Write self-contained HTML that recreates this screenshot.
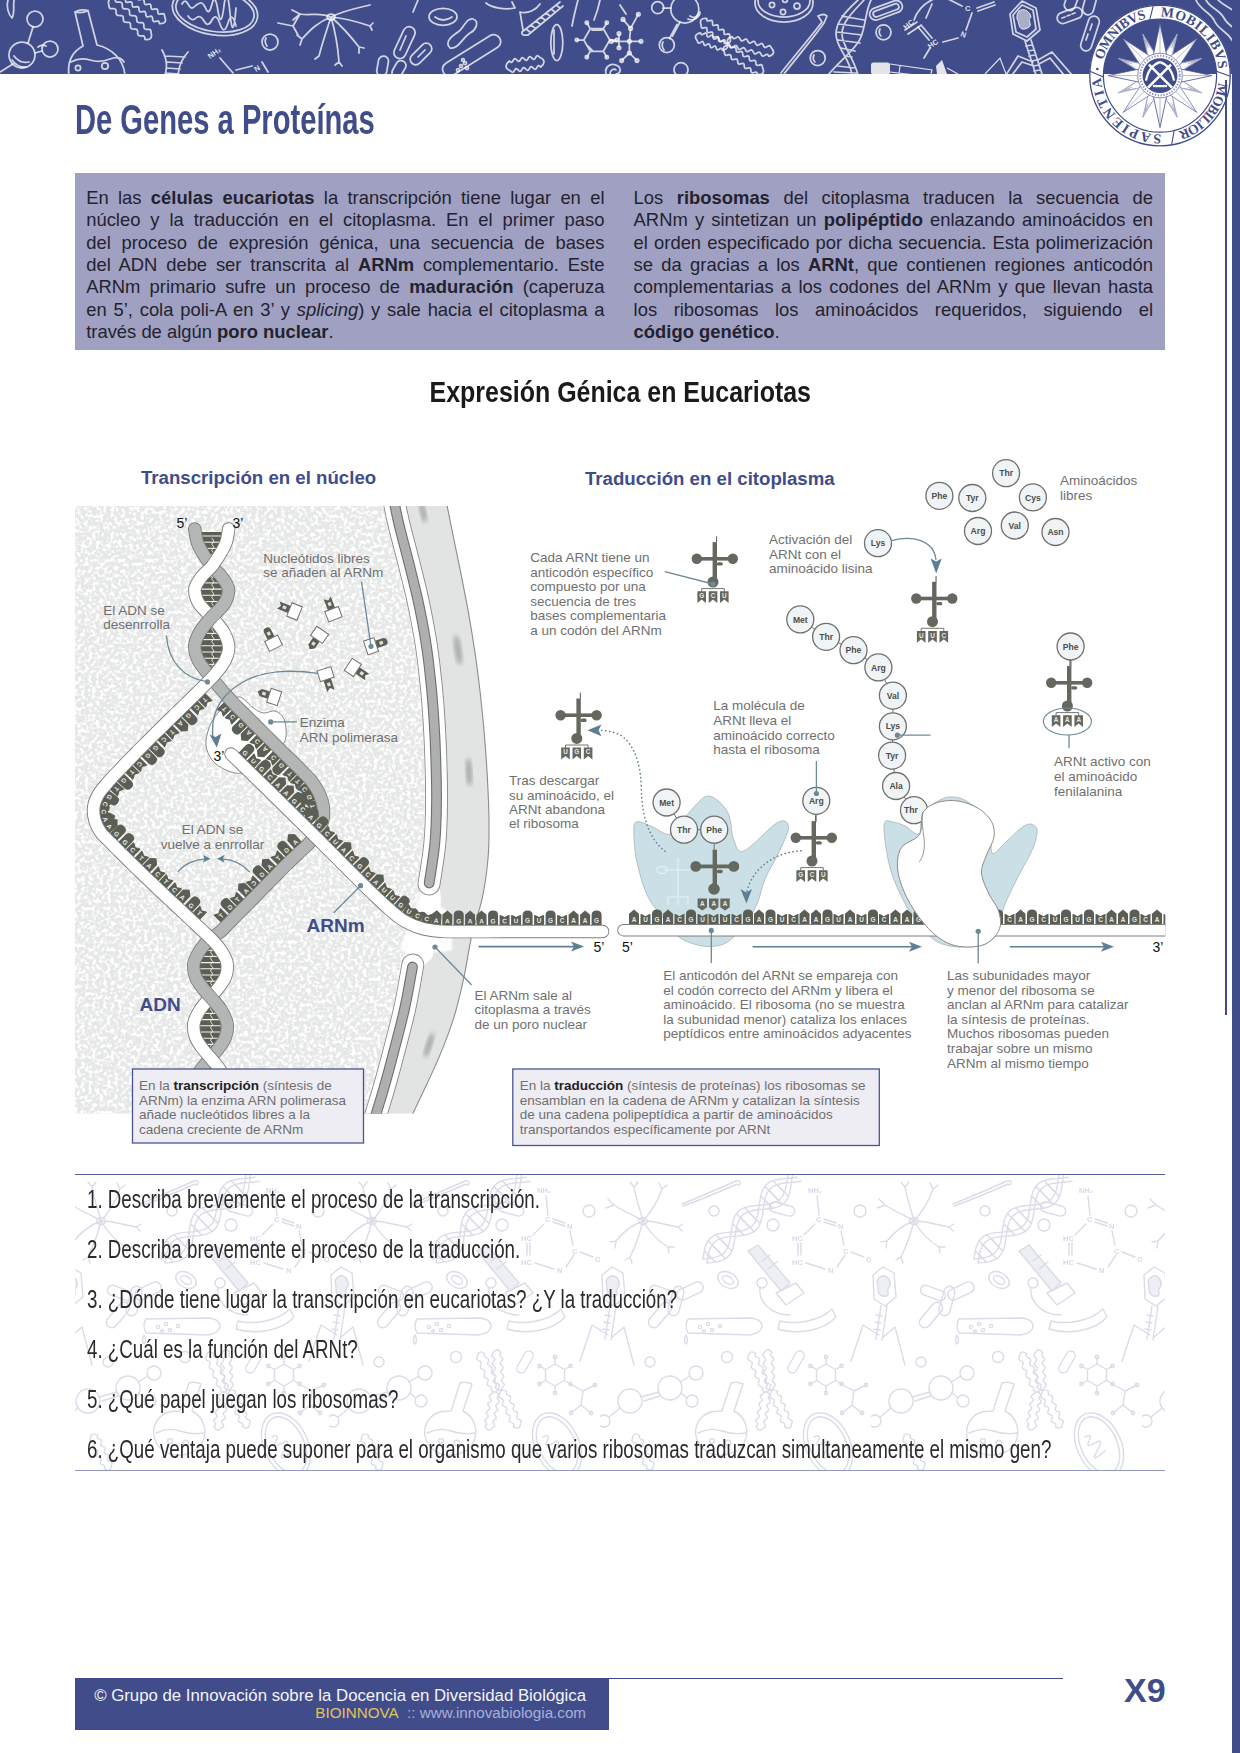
<!DOCTYPE html>
<html lang="es">
<head>
<meta charset="utf-8">
<title>De Genes a Proteínas</title>
<style>
*{box-sizing:border-box;margin:0;padding:0}
html,body{width:1240px;height:1753px;background:#fff;overflow:hidden}
body{position:relative;font-family:"Liberation Sans",sans-serif;color:#222}
.abs{position:absolute}
svg text{font-family:"Liberation Sans",sans-serif}
#hdr{left:0;top:0;width:1240px;height:74px;background:#414c8a;overflow:hidden}
#rband{left:1231.5px;top:0;width:8.5px;height:1753px;background:#414c8a}
#rline{left:1225.3px;top:80px;width:2px;height:935px;background:#414c8a;z-index:3}
#seal{left:1080px;top:0;width:160px;height:160px}
.seal{font-family:"Liberation Serif",serif;font-weight:bold;font-size:13.8px;fill:#414c8a}
#title{left:75.2px;top:95.5px;font-weight:bold;font-size:42px;line-height:48px;color:#414c8a;white-space:nowrap;transform-origin:0 0;transform:scaleX(.694)}
#tbox{left:75px;top:173px;width:1090px;height:177px;background:#a0a0c3}
.col{position:absolute;top:13.8px;font-size:18.4px;line-height:22.4px;color:#23232e}
.ln{height:22.4px;text-align:justify;text-align-last:justify;white-space:normal;overflow:visible}
.ln.nl{text-align:left;text-align-last:left;white-space:nowrap}
#dtitle{left:0;top:374px;width:1240px;text-align:center;font-weight:bold;font-size:30px;line-height:36px;color:#1a1a1a;white-space:nowrap}
#dtitle span{display:inline-block;transform:scaleX(.832)}
#diagram{left:0;top:440px;width:1240px;height:720px}
.tl{font-size:6.4px;font-weight:bold;fill:#e9ebe6;text-anchor:middle}
.lb{font-size:13.5px;fill:#707070}
.bb{font-weight:bold;fill:#222}
.st{font-size:18.65px;font-weight:bold;fill:#414c8a}
.big{font-size:19px;font-weight:bold;fill:#414c8a}
.pr{font-size:14px;fill:#111}
.aa{font-size:8.6px;font-weight:bold;fill:#4c4e4a;text-anchor:middle}
#qs{left:75px;top:1174px;width:1090px;height:297px;border-top:1.6px solid #555e96;border-bottom:1.6px solid #9499bd;overflow:hidden}
#qbg{left:0;top:0;width:1090px;height:296px}
.q{position:absolute;left:12.3px;font-size:25.6px;line-height:30px;color:#2b2b2b;white-space:nowrap;transform-origin:0 0;transform:scaleX(.732)}
#fbox{left:75px;top:1678px;width:534px;height:52px;background:#414c8a;color:#fff}
#fline{left:75px;top:1678px;width:988px;height:1px;background:#414c8a}
#pg{left:1124px;top:1672px;font-weight:bold;font-size:34px;line-height:36px;color:#414c8a}
</style>
</head>
<body>
<div id="hdr" class="abs"><svg width="1240" height="74" viewBox="0 0 1240 74" style="display:block">
<g fill="none" stroke="#fff" stroke-opacity=".76" stroke-width="1.75" stroke-linecap="round" stroke-linejoin="round">
<path d="M8 0C6 8 9 15 12 18C15 13 13 6 14 0"/>
<circle cx="35.0" cy="19.0" r="8.0"/><circle cx="22.0" cy="55.0" r="13.0"/><circle cx="50.0" cy="49.0" r="8.0"/>
<path d="M33 27L28 43M35 53L42 51M13 64L0 72M12 60q6 8 14 7M14 56q6 8 15 6M38 47q4 -3 8 -1"/>
<path d="M75 12Q81 8.5 88 10.5Q82 14 75 12L83 46C72 52 67 62 69 76M88 10.5L97 45C110 48 124 58 125 76M71 62Q80 57 90 60T110 59T124 62"/>
<circle cx="78.0" cy="68.0" r="2.6"/><circle cx="105.0" cy="66.0" r="3.2"/>
<path d="M108.9 5.3L109.0 6.9L109.6 8.1L110.8 8.6L112.5 8.7L114.2 8.7L115.4 9.2L116.0 10.4L116.1 12.1L116.2 13.7L116.8 14.9L118.0 15.4L119.7 15.5L121.4 15.5L122.6 16.0L123.2 17.2L123.3 18.9L123.4 20.5L124.0 21.7L125.2 22.2L126.9 22.3L128.6 22.3L129.8 22.8L130.4 24.0L130.5 25.7L130.6 27.3L131.2 28.5L132.4 29.0L134.1 29.1L135.8 29.1L137.0 29.6L137.6 30.8L137.7 32.5L137.8 34.1L138.4 35.3L139.6 35.8L141.3 35.9L143.0 35.9L144.2 36.4L144.8 37.6L144.9 39.3 Q153.2 40.9 151.1 32.7L151.0 31.1L150.4 29.9L149.2 29.4L147.5 29.3L145.8 29.3L144.6 28.8L144.0 27.6L143.9 25.9L143.8 24.3L143.2 23.1L142.0 22.6L140.3 22.5L138.6 22.5L137.4 22.0L136.8 20.8L136.7 19.1L136.6 17.5L136.0 16.3L134.8 15.8L133.1 15.7L131.4 15.7L130.2 15.2L129.6 14.0L129.5 12.3L129.4 10.7L128.8 9.5L127.6 9.0L125.9 8.9L124.2 8.9L123.0 8.4L122.4 7.2L122.3 5.5L122.2 3.9L121.6 2.7L120.4 2.2L118.7 2.1L117.0 2.1L115.8 1.6L115.2 0.4L115.1 -1.3Q106.8 -2.9 108.9 5.3"/>
<path d="M125.4 -0.3L125.6 1.2L126.2 2.2L127.3 2.4L128.8 2.1L130.3 1.8L131.4 2.0L132.0 3.0L132.2 4.5L132.4 6.0L133.0 7.0L134.1 7.2L135.6 6.9L137.1 6.6L138.2 6.8L138.8 7.8L139.0 9.3L139.2 10.8L139.8 11.8L140.9 12.0L142.4 11.7L143.9 11.4L145.0 11.6L145.6 12.6L145.8 14.1L146.0 15.6L146.6 16.6L147.7 16.8L149.2 16.5L150.7 16.2L151.8 16.4L152.4 17.4L152.6 18.9L152.8 20.4L153.4 21.4L154.5 21.6L156.0 21.3L157.5 21.0L158.6 21.2L159.2 22.2L159.4 23.7 Q167.9 24.2 164.6 16.3L164.4 14.8L163.8 13.8L162.7 13.6L161.2 13.9L159.7 14.2L158.6 14.0L158.0 13.0L157.8 11.5L157.6 10.0L157.0 9.0L155.9 8.8L154.4 9.1L152.9 9.4L151.8 9.2L151.2 8.2L151.0 6.7L150.8 5.2L150.2 4.2L149.1 4.0L147.6 4.3L146.1 4.6L145.0 4.4L144.4 3.4L144.2 1.9L144.0 0.4L143.4 -0.6L142.3 -0.8L140.8 -0.5L139.3 -0.2L138.2 -0.4L137.6 -1.4L137.4 -2.9L137.2 -4.4L136.6 -5.4L135.5 -5.6L134.0 -5.3L132.5 -5.0L131.4 -5.2L130.8 -6.2L130.6 -7.7Q122.1 -8.2 125.4 -0.3"/>
<ellipse cx="215" cy="11" rx="43" ry="24" transform="rotate(9 215 11)"/><ellipse cx="215" cy="11" rx="39.5" ry="20.5" transform="rotate(9 215 11)"/>
<path d="M182 4q3 -6 6 0t6 3t6 -4t6 6t6 -5t6 7t6 -5t6 7t6 -5M188 16q4 6 8 2t8 3t8 -1t8 4t8 -1t8 3"/>
<path d="M162 50Q169 62 165 75M188 52Q179 62 178 75M165 56L185 57M167 62L182 63M167 68L180 69M166 73L179 74"/>
<path d="M220 58L233 73M236 70L252 66M262 62L268 72"/>
<circle cx="270.0" cy="42.0" r="8.0"/><path d="M266 38q-2 4 1 8"/>
<path d="M331 17C320 12 310 16 300 14M331 17C318 22 310 30 302 39M302 39l-5 -4M302 39l-2 6M331 17C326 32 322 44 319 56M319 56l-4 3M331 17C336 34 338 48 339 62M339 62l3 4M339 62l-4 3M331 17C344 28 352 38 359 47M359 47l5 1M359 47l0 6M331 17C346 18 358 22 370 26M370 26l3 -3M370 26l2 4M331 17C345 10 358 8 370 5M300 14l-8 -4M300 14l-7 6M278 23L293 26L300 14M293 26L298 35"/>
<ellipse cx="331" cy="17" rx="4" ry="3"/>
<rect x="387.5" y="36.6" width="34.0" height="12.0" rx="6.0" transform="rotate(-65.0 404.5 42.6)"/><rect x="408.0" y="48.5" width="26.0" height="11.0" rx="5.5" transform="rotate(-45.0 421.0 54.0)"/><rect x="372.6" y="61.0" width="20.0" height="10.0" rx="5.0" transform="rotate(-80.0 382.6 66.0)"/><rect x="390.0" y="64.0" width="18.0" height="10.0" rx="5.0" transform="rotate(-60.0 399.0 69.0)"/>
<path d="M400 50l6 -14M418 57l7 -7M418 0L413 12"/>
<ellipse cx="443" cy="16.8" rx="14" ry="8.5"/><path d="M435 17q8 6 17 0"/>
<path d="M450 48C444 42 452 36 458 32C464 28 466 18 473 19C480 21 476 30 470 33C463 37 458 50 450 48Z"/>
<rect x="438.6" y="48.4" width="66.0" height="14.0" rx="7.0" transform="rotate(-32.0 471.6 55.4)"/>
<circle cx="461.0" cy="66.0" r="1.5"/><circle cx="465.0" cy="63.0" r="1.5"/><circle cx="458.0" cy="70.0" r="1.5"/><circle cx="467.0" cy="68.0" r="1.5"/><circle cx="463.0" cy="60.0" r="1.4"/>
<path d="M486 3C492 8 505 10 515 8L512 2M520 12C528 14 536 10 540 4M522 32L560 2M528 35L563 6M522 32Q521 36 528 35M526 29l4 3M531 25l4 3M536 21l4 3M541 17l4 3M546 13l4 3M551 9l4 3M556 5l4 3M520 12L523 30"/>
<ellipse cx="556.8" cy="42.6" rx="6" ry="18"/><path d="M554 30v24"/>
<path d="M510.7 71.0L511.7 72.0L512.7 72.3L513.6 71.7L514.4 70.5L515.2 69.2L516.1 68.6L517.1 69.0L518.2 70.0L519.2 71.0L520.2 71.3L521.1 70.7L521.9 69.5L522.7 68.2L523.6 67.6L524.6 68.0L525.7 69.0L526.7 70.0L527.7 70.3L528.6 69.7L529.4 68.5L530.2 67.2L531.1 66.6L532.1 67.0L533.2 68.0L534.2 69.0L535.2 69.3L536.1 68.7L536.9 67.5L537.7 66.2L538.6 65.6L539.6 66.0L540.7 67.0 Q547.9 60.9 539.3 57.0L538.3 56.0L537.3 55.7L536.4 56.3L535.6 57.5L534.8 58.8L533.9 59.4L532.9 59.0L531.8 58.0L530.8 57.0L529.8 56.7L528.9 57.3L528.1 58.5L527.3 59.8L526.4 60.4L525.4 60.0L524.3 59.0L523.3 58.0L522.3 57.7L521.4 58.3L520.6 59.5L519.8 60.8L518.9 61.4L517.9 61.0L516.8 60.0L515.8 59.0L514.8 58.7L513.9 59.3L513.1 60.5L512.3 61.8L511.4 62.4L510.4 62.0L509.3 61.0Q502.1 67.1 510.7 71.0"/>
<path d="M578 0Q574 15 572 26M600 0Q598 10 594 20"/>
<path d="M609.8 40.0L603.3 51.3L590.3 51.3L583.8 40.0L590.3 28.7L603.3 28.7ZM609.8 40.0L616.8 40.0M603.3 51.3L606.8 57.3M590.3 51.3L586.8 57.3M583.8 40.0L576.8 40.0M590.3 28.7L586.8 22.7M603.3 28.7L606.8 22.7M592 30L602 30M588 46L593 51"/>
<circle cx="616.8" cy="40.0" r="1.6"/><circle cx="606.8" cy="57.3" r="1.6"/><circle cx="586.8" cy="57.3" r="1.6"/><circle cx="576.8" cy="40.0" r="1.6"/><circle cx="586.8" cy="22.7" r="1.6"/><circle cx="606.8" cy="22.7" r="1.6"/>
<path d="M606 74C604 66 612 62 618 66C622 69 620 74 616 74M610 74C610 70 614 68 616 70"/>
<path d="M623 19.4L630.6 28.4L638.4 14.2M630.6 28.4L629.4 41.3M619 33.5L619 47.7M611.3 41.3H641M629.4 41.3V53L621.6 60.6M629.4 53L637 60.6M620 5L626 14"/>
<circle cx="623.0" cy="19.4" r="1.7"/><circle cx="638.4" cy="14.2" r="1.7"/><circle cx="630.6" cy="28.4" r="1.7"/><circle cx="619.0" cy="33.5" r="1.7"/><circle cx="611.3" cy="41.3" r="1.7"/><circle cx="629.4" cy="41.3" r="1.7"/><circle cx="641.0" cy="41.3" r="1.7"/><circle cx="619.0" cy="47.7" r="1.7"/><circle cx="629.4" cy="53.0" r="1.7"/><circle cx="621.6" cy="60.6" r="1.7"/><circle cx="637.0" cy="60.6" r="1.7"/>
<circle cx="657.7" cy="7.7" r="6.0"/><circle cx="684.8" cy="9.0" r="14.0"/><circle cx="666.8" cy="45.0" r="7.5"/><circle cx="681.0" cy="69.7" r="7.0"/>
<path d="M663 8h8M677 24.5L669.5 38.5M680 22L672.5 36M690 16q6 4 10 -4M688 19q7 3 12 -5M663 42q-2 4 1 8"/>
<path d="M701.2 25.5L701.3 26.9L701.7 27.9L702.7 28.1L704.1 27.8L705.5 27.5L706.5 27.7L706.9 28.6L707.0 30.0L707.0 31.4L707.5 32.4L708.5 32.6L709.9 32.3L711.2 32.0L712.2 32.2L712.7 33.1L712.7 34.5L712.8 35.9L713.2 36.9L714.2 37.1L715.6 36.8L717.0 36.5L718.0 36.7L718.4 37.6L718.5 39.0L718.5 40.4L719.0 41.4L720.0 41.6L721.4 41.3L722.7 41.0L723.7 41.2L724.2 42.1L724.2 43.5 Q732.7 44.4 729.8 36.5L729.7 35.1L729.3 34.1L728.3 33.9L726.9 34.2L725.5 34.5L724.5 34.3L724.1 33.4L724.0 32.0L724.0 30.6L723.5 29.6L722.5 29.4L721.1 29.7L719.8 30.0L718.8 29.8L718.3 28.9L718.3 27.5L718.2 26.1L717.8 25.1L716.8 24.9L715.4 25.2L714.0 25.5L713.0 25.3L712.6 24.4L712.5 23.0L712.5 21.6L712.0 20.6L711.0 20.4L709.6 20.7L708.3 21.0L707.3 20.8L706.8 19.9L706.8 18.5Q698.3 17.6 701.2 25.5"/>
<path d="M697.5 41.2L697.9 42.5L698.5 43.2L699.5 43.1L700.6 42.4L701.7 41.6L702.7 41.5L703.3 42.2L703.7 43.5L704.1 44.8L704.8 45.5L705.7 45.3L706.9 44.6L708.0 43.9L708.9 43.8L709.6 44.5L710.0 45.7L710.4 47.0L711.0 47.7L712.0 47.6L713.1 46.9L714.2 46.1L715.2 46.0L715.8 46.7L716.2 48.0L716.6 49.3L717.3 50.0L718.2 49.8L719.4 49.1L720.5 48.4L721.4 48.3L722.1 49.0L722.5 50.2 Q730.8 48.4 725.5 41.8L725.1 40.5L724.5 39.8L723.5 39.9L722.4 40.6L721.3 41.4L720.3 41.5L719.7 40.8L719.3 39.5L718.9 38.2L718.2 37.5L717.3 37.7L716.1 38.4L715.0 39.1L714.1 39.2L713.4 38.5L713.0 37.3L712.6 36.0L712.0 35.3L711.0 35.4L709.9 36.1L708.8 36.9L707.8 37.0L707.2 36.3L706.8 35.0L706.4 33.7L705.7 33.0L704.8 33.2L703.6 33.9L702.5 34.6L701.6 34.7L700.9 34.0L700.5 32.8Q692.2 34.6 697.5 41.2"/>
<path d="M729.8 45.3L730.5 46.6L731.3 47.3L732.4 47.2L733.7 46.4L734.9 45.7L736.0 45.5L736.9 46.2L737.6 47.5L738.3 48.8L739.1 49.5L740.2 49.4L741.5 48.6L742.7 47.9L743.8 47.7L744.7 48.4L745.4 49.7L746.1 51.0L746.9 51.7L748.0 51.6L749.3 50.8L750.5 50.1L751.6 49.9L752.5 50.6L753.2 51.9L753.9 53.2L754.7 53.9L755.8 53.8L757.1 53.0L758.3 52.3L759.4 52.1L760.3 52.8L761.0 54.1L761.7 55.4L762.5 56.1L763.6 56.0L764.9 55.2L766.1 54.5L767.2 54.3L768.1 55.0L768.8 56.3 Q776.9 54.0 771.2 47.7L770.5 46.4L769.7 45.7L768.6 45.8L767.3 46.6L766.1 47.3L765.0 47.5L764.1 46.8L763.4 45.5L762.7 44.2L761.9 43.5L760.8 43.6L759.5 44.4L758.3 45.1L757.2 45.3L756.3 44.6L755.6 43.3L754.9 42.0L754.1 41.3L753.0 41.4L751.7 42.2L750.5 42.9L749.4 43.1L748.5 42.4L747.8 41.1L747.1 39.8L746.3 39.1L745.2 39.2L743.9 40.0L742.7 40.7L741.6 40.9L740.7 40.2L740.0 38.9L739.3 37.6L738.5 36.9L737.4 37.0L736.1 37.8L734.9 38.5L733.8 38.7L732.9 38.0L732.2 36.7Q724.1 39.0 729.8 45.3"/>
<path d="M724.5 52.7L724.7 54.2L725.3 55.1L726.4 55.3L727.8 54.9L729.2 54.6L730.3 54.8L730.9 55.7L731.1 57.1L731.3 58.6L731.9 59.5L733.0 59.7L734.4 59.3L735.8 59.0L736.9 59.2L737.5 60.1L737.7 61.5L737.9 63.0L738.5 63.9L739.6 64.1L741.0 63.7L742.4 63.4L743.5 63.6L744.1 64.5L744.3 65.9L744.5 67.4L745.1 68.3L746.2 68.5L747.6 68.1L749.0 67.8L750.1 68.0L750.7 68.9L750.9 70.3L751.1 71.8L751.7 72.7L752.8 72.9L754.2 72.5L755.6 72.2L756.7 72.4L757.3 73.3L757.5 74.7 Q766.0 75.0 762.5 67.3L762.3 65.8L761.7 64.9L760.6 64.7L759.2 65.1L757.8 65.4L756.7 65.2L756.1 64.3L755.9 62.9L755.7 61.4L755.1 60.5L754.0 60.3L752.6 60.7L751.2 61.0L750.1 60.8L749.5 59.9L749.3 58.5L749.1 57.0L748.5 56.1L747.4 55.9L746.0 56.3L744.6 56.6L743.5 56.4L742.9 55.5L742.7 54.1L742.5 52.6L741.9 51.7L740.8 51.5L739.4 51.9L738.0 52.2L736.9 52.0L736.3 51.1L736.1 49.7L735.9 48.2L735.3 47.3L734.2 47.1L732.8 47.5L731.4 47.8L730.3 47.6L729.7 46.7L729.5 45.3Q721.0 45.0 724.5 52.7"/>
<ellipse cx="784" cy="3" rx="29" ry="19"/><ellipse cx="784" cy="1" rx="26" ry="16"/>
<circle cx="772.0" cy="5.0" r="2.6"/><circle cx="783.0" cy="12.0" r="2.6"/><circle cx="797.0" cy="6.0" r="3.0"/><circle cx="785.0" cy="0.0" r="2.4"/>
<path d="M781 73C795 55 810 38 822 22L818 16Q824 13 827 16L824 23C812 40 797 57 784 74"/>
<circle cx="817.7" cy="58.0" r="7.5"/><path d="M814 55q-2 4 1 7"/>
<path d="M858 0C845 12 836 22 836 34C836 48 850 58 852 75M871 0C866 10 866 22 862 34C858 48 842 58 828 75M864 0C853 12 842 22 842 34C842 46 854 58 858 75M842 16L864 20M838 24L864 27M837 32L862 35M838 40L860 43M841 48L855 51M845 56L852 57M838 66L854 68M834 72L856 73"/>
<rect x="869.0" y="4.3" width="34.0" height="12.0" rx="6.0" transform="rotate(-20.0 886.0 10.3)"/><rect x="872.5" y="7.3" width="27.0" height="6.0" rx="3.0" transform="rotate(-20.0 886.0 10.3)"/>
<circle cx="883.5" cy="32.3" r="7.5"/><path d="M880 29q-2 4 1 7"/>
<path d="M905 30L917 22M908 34L920 26M926 18L932 4"/>
<path d="M914 20C918 8 926 2 936 -2M972 13L966 30M958 38L943 42M918 27L929 40M921 25L932 38M977 8L994 2M978 11L995 5M930 48L924 58M946 -2L962 6"/>
<path d="M1010 14L1022 1L1036 8L1040 30L1027 41L1013 34ZM1013 15L1022 5L1033 10L1036 29L1027 37L1016 32ZM1025 41L1036 75M1031 40L1042 74M1026 46l6 -1M1028 51l6 -1M1029 56l6 -1M1031 61l6 -1M1033 66l6 -1M1034 71l6 -1M1033 62L1018 56L1006 75M1034 66L1022 62L1012 75M1038 60L1052 52L1072 75M1039 64L1050 58L1064 75"/>
<path d="M1019 11q4 -3 8 0t4 6q-3 2 -1 6t-5 6q-5 1 -6 -4t-2 -6q-1 -5 2 -8" stroke-width="1" fill="#fff" fill-opacity=".55"/>
<rect x="1056.7" y="10.0" width="26.0" height="11.0" rx="5.5" transform="rotate(-20.0 1069.7 15.5)"/><rect x="1072.0" y="28.0" width="36.0" height="11.0" rx="5.5" transform="rotate(-72.0 1090.0 33.5)"/><rect x="1060.0" y="-6.5" width="24.0" height="11.0" rx="5.5" transform="rotate(-70.0 1072.0 -1.0)"/><rect x="1077.0" y="-3.5" width="26.0" height="11.0" rx="5.5" transform="rotate(-75.0 1090.0 2.0)"/>
<path d="M1062 18l3 -1M1067 16l3 -1M1072 14l3 -1M1086 40l2 -6M1090 30l2 -6"/>
<path d="M1196 0C1200 10 1210 12 1214 20C1218 30 1226 30 1232 40C1236 46 1238 52 1240 56M1206 0C1210 8 1220 10 1224 18C1228 26 1236 28 1240 34M1218 0C1224 6 1232 8 1240 16"/>
</g>
<g fill="#e4e4ea"><rect x="871" y="62.5" width="19" height="12" rx="2.5"/><path d="M936 66L942 60L947 74L937 74Z"/></g>
<g fill="none" stroke="#fff" stroke-opacity=".82" stroke-width="1.2"><path d="M890 64L932 70L931 74M890 72L915 75M900 65.5L899 74M947 68L958 74M985 74L1000 58L1006 74"/></g>
<g fill="#fff" fill-opacity=".85" font-family="Liberation Sans, sans-serif" font-size="7.5" font-weight="bold"><text transform="translate(210 59) rotate(-35)">NH₂</text><text transform="translate(256 72) rotate(-30)">N</text><text transform="translate(906 30) rotate(-40)">HC</text><text x="965" y="11">C</text><text transform="translate(960 36) rotate(20)">N</text><text transform="translate(930 49) rotate(-35)">HC</text></g>
</svg></div>
<div id="rband" class="abs"></div>
<div id="rline" class="abs"></div>
<div id="seal" class="abs"><svg width="160" height="160" viewBox="1080 0 160 160" style="display:block">
<circle cx="1160.0" cy="75.6" r="63.5" fill="none" stroke="#fff" stroke-width="14"/>
<circle cx="1160.0" cy="75.6" r="70.2" fill="none" stroke="#414c8a" stroke-width="1.3"/>
<circle cx="1160.0" cy="75.6" r="56.6" fill="none" stroke="#414c8a" stroke-width="1.2"/>
<path d="M1149.7 19.9L1153.3 5.7" stroke="#414c8a" stroke-width="1.1"/>
<path d="M1216.4 71.2L1230.2 76.2" stroke="#414c8a" stroke-width="1.1"/>
<path d="M1174.2 130.4L1171.6 144.8" stroke="#414c8a" stroke-width="1.1"/>
<path d="M1103.4 77.1L1089.9 71.3" stroke="#414c8a" stroke-width="1.1"/>
<path id="sealc" d="M1101.1 75.6A58.9 58.9 0 1 1 1218.9 75.6A58.9 58.9 0 1 1 1101.1 75.6" fill="none"/>
<text class="seal"><textPath href="#sealc" startOffset="15.4" textLength="63.2" lengthAdjust="spacing">OMNIBVS</textPath></text>
<text class="seal"><textPath href="#sealc" startOffset="93.0" textLength="85.3" lengthAdjust="spacing">MOBILIBVS</textPath></text>
<text class="seal"><textPath href="#sealc" startOffset="191.7" textLength="67.3" lengthAdjust="spacing">MOBILIOR</textPath></text>
<text class="seal"><textPath href="#sealc" startOffset="276.0" textLength="91.5" lengthAdjust="spacing">SAPIENTIA</textPath></text>
<circle cx="1097.3" cy="69.0" r="1.3" fill="#414c8a"/>
<path d="M1164.2 55.0L1177.2 34.0L1171.6 58.1Z" fill="#fff" stroke="#9da3c6" stroke-width=".9"/>
<path d="M1167.7 49.7L1174.9 39.6L1172.9 51.9M1171.5 47.9L1177.2 34.0" fill="none" stroke="#9da3c6" stroke-width=".8"/>
<path d="M1177.5 64.0L1201.6 58.4L1180.6 71.4Z" fill="#fff" stroke="#9da3c6" stroke-width=".9"/>
<path d="M1183.7 62.7L1196.0 60.7L1185.9 67.9M1187.7 64.1L1201.6 58.4" fill="none" stroke="#9da3c6" stroke-width=".8"/>
<path d="M1180.6 79.8L1201.6 92.8L1177.5 87.2Z" fill="#fff" stroke="#9da3c6" stroke-width=".9"/>
<path d="M1185.9 83.3L1196.0 90.5L1183.7 88.5M1187.7 87.1L1201.6 92.8" fill="none" stroke="#9da3c6" stroke-width=".8"/>
<path d="M1171.6 93.1L1177.2 117.2L1164.2 96.2Z" fill="#fff" stroke="#9da3c6" stroke-width=".9"/>
<path d="M1172.9 99.3L1174.9 111.6L1167.7 101.5M1171.5 103.3L1177.2 117.2" fill="none" stroke="#9da3c6" stroke-width=".8"/>
<path d="M1155.8 96.2L1142.8 117.2L1148.4 93.1Z" fill="#fff" stroke="#9da3c6" stroke-width=".9"/>
<path d="M1152.3 101.5L1145.1 111.6L1147.1 99.3M1148.5 103.3L1142.8 117.2" fill="none" stroke="#9da3c6" stroke-width=".8"/>
<path d="M1142.5 87.2L1118.4 92.8L1139.4 79.8Z" fill="#fff" stroke="#9da3c6" stroke-width=".9"/>
<path d="M1136.3 88.5L1124.0 90.5L1134.1 83.3M1132.3 87.1L1118.4 92.8" fill="none" stroke="#9da3c6" stroke-width=".8"/>
<path d="M1139.4 71.4L1118.4 58.4L1142.5 64.0Z" fill="#fff" stroke="#9da3c6" stroke-width=".9"/>
<path d="M1134.1 67.9L1124.0 60.7L1136.3 62.7M1132.3 64.1L1118.4 58.4" fill="none" stroke="#9da3c6" stroke-width=".8"/>
<path d="M1148.4 58.1L1142.8 34.0L1155.8 55.0Z" fill="#fff" stroke="#9da3c6" stroke-width=".9"/>
<path d="M1147.1 51.9L1145.1 39.6L1152.3 49.7M1148.5 47.9L1142.8 34.0" fill="none" stroke="#9da3c6" stroke-width=".8"/>
<path d="M1153.2 55.7L1160.0 23.6L1166.8 55.7Z" fill="#fff" stroke="#414c8a" stroke-width=".8"/>
<path d="M1160.0 55.6L1160.0 23.6" stroke="#8088b6" stroke-width=".6"/>
<path d="M1169.2 56.7L1196.8 38.8L1178.9 66.4Z" fill="#fff" stroke="#6b74a8" stroke-width=".8"/>
<path d="M1174.1 61.5L1196.8 38.8" stroke="#8088b6" stroke-width=".6"/>
<path d="M1179.9 68.8L1212.0 75.6L1179.9 82.4Z" fill="#fff" stroke="#414c8a" stroke-width=".8"/>
<path d="M1180.0 75.6L1212.0 75.6" stroke="#8088b6" stroke-width=".6"/>
<path d="M1178.9 84.8L1196.8 112.4L1169.2 94.5Z" fill="#fff" stroke="#6b74a8" stroke-width=".8"/>
<path d="M1174.1 89.7L1196.8 112.4" stroke="#8088b6" stroke-width=".6"/>
<path d="M1166.8 95.5L1160.0 127.6L1153.2 95.5Z" fill="#fff" stroke="#414c8a" stroke-width=".8"/>
<path d="M1160.0 95.6L1160.0 127.6" stroke="#8088b6" stroke-width=".6"/>
<path d="M1150.8 94.5L1123.2 112.4L1141.1 84.8Z" fill="#fff" stroke="#6b74a8" stroke-width=".8"/>
<path d="M1145.9 89.7L1123.2 112.4" stroke="#8088b6" stroke-width=".6"/>
<path d="M1140.1 82.4L1108.0 75.6L1140.1 68.8Z" fill="#fff" stroke="#414c8a" stroke-width=".8"/>
<path d="M1140.0 75.6L1108.0 75.6" stroke="#8088b6" stroke-width=".6"/>
<path d="M1141.1 66.4L1123.2 38.8L1150.8 56.7Z" fill="#fff" stroke="#6b74a8" stroke-width=".8"/>
<path d="M1145.9 61.5L1123.2 38.8" stroke="#8088b6" stroke-width=".6"/>
<circle cx="1160.0" cy="75.6" r="22.3" fill="#fff" stroke="#7a82b2" stroke-width=".9"/>
<circle cx="1160.0" cy="75.6" r="19.8" fill="none" stroke="#8b92bd" stroke-width="2" stroke-dasharray="1.3 1.6"/>
<circle cx="1160.0" cy="75.6" r="17.4" fill="#414c8a"/>
<g fill="none" stroke="#fff" stroke-width="2.6" stroke-linecap="butt"><path d="M1149.0 64.6L1172.0 87.6M1171.0 64.6L1148.0 87.6"/>
<path d="M1146.0 80.6C1148.0 69.6 1154.0 63.6 1160.0 62.1M1174.0 80.6C1172.0 69.6 1166.0 63.6 1160.0 62.1" stroke-width="2.2"/>
<path d="M1153.0 86.1H1167.0" stroke-width="2.2"/></g>
</svg></div>
<div id="title" class="abs">De Genes a Proteínas</div>

<div id="tbox" class="abs">
<div class="col" style="left:11.2px;width:518.3px">
<div class="ln">En las <b>células eucariotas</b> la transcripción tiene lugar en el</div>
<div class="ln">núcleo y la traducción en el citoplasma. En el primer paso</div>
<div class="ln">del proceso de expresión génica, una secuencia de bases</div>
<div class="ln">del ADN debe ser transcrita al <b>ARNm</b> complementario. Este</div>
<div class="ln">ARNm primario sufre un proceso de <b>maduración</b> (caperuza</div>
<div class="ln">en 5’, cola poli-A en 3’ y <i>splicing</i>) y sale hacia el citoplasma a</div>
<div class="ln nl">través de algún <b>poro nuclear</b>.</div>
</div>
<div class="col" style="left:558.6px;width:519.4px">
<div class="ln">Los <b>ribosomas</b> del citoplasma traducen la secuencia de</div>
<div class="ln">ARNm y sintetizan un <b>polipéptido</b> enlazando aminoácidos en</div>
<div class="ln">el orden especificado por dicha secuencia. Esta polimerización</div>
<div class="ln">se da gracias a los <b>ARNt</b>, que contienen regiones anticodón</div>
<div class="ln">complementarias a los codones del ARNm y que llevan hasta</div>
<div class="ln">los ribosomas los aminoácidos requeridos, siguiendo el</div>
<div class="ln nl"><b>código genético</b>.</div>
</div>
</div>

<div id="dtitle" class="abs"><span>Expresión Génica en Eucariotas</span></div>

<div id="diagram" class="abs"><svg width="1240" height="720" viewBox="0 440 1240 720" style="display:block">
<defs>
<filter id="spk" x="0" y="0" width="100%" height="100%">
<feTurbulence type="fractalNoise" baseFrequency="0.27" numOctaves="2" seed="11" result="n"/>
<feColorMatrix in="n" type="matrix" values="0 0 0 0 1  0 0 0 0 1  0 0 0 0 1  0 0 0 5 -2.3" result="w"/>
<feComposite in="w" in2="SourceGraphic" operator="in"/>
</filter>
<filter id="bl2"><feGaussianBlur stdDeviation="2"/></filter>
<clipPath id="dclip"><rect x="75" y="506" width="1095" height="607.5"/></clipPath>
<clipPath id="dclip2"><rect x="600" y="440" width="565.3" height="720"/></clipPath>
<filter id="bl1"><feGaussianBlur stdDeviation="1.2"/></filter>
<path id="tA" d="M-5.0 0V11.0L0 15.2L5.0 11.0V0Z" fill="#5b5e54"/><path id="tG" d="M-5.0 0V10.7Q-5.0 15.2 0 15.2Q5.0 15.2 5.0 10.7V0Z" fill="#5b5e54"/><path id="tC" d="M-5.0 0V10.8L-3.4 10.5L0 8.6L3.4 10.5L5.0 10.8V0Z" fill="#5b5e54"/>
</defs>
<g clip-path="url(#dclip)">
<path d="M75.0 500.0 L378.6 481.2 L386.2 520.4 L396.3 560.1 L405.8 599.0 L413.7 639.2 L419.0 678.8 L422.5 719.7 L424.3 759.6 L425.0 800.6 L423.6 840.6 L418.0 880.2 L422.0 902.0 L416.0 935.0 L408.0 950.0 L401.4 963.4 L393.7 1004.7 L383.5 1045.4 L372.6 1086.0 L360.5 1125.1 L75.0 1130.0Z" fill="#e6e7e7"/>
<path d="M75.0 500.0 L378.6 481.2 L386.2 520.4 L396.3 560.1 L405.8 599.0 L413.7 639.2 L419.0 678.8 L422.5 719.7 L424.3 759.6 L425.0 800.6 L423.6 840.6 L418.0 880.2 L422.0 902.0 L416.0 935.0 L408.0 950.0 L401.4 963.4 L393.7 1004.7 L383.5 1045.4 L372.6 1086.0 L360.5 1125.1 L75.0 1130.0Z" fill="#fff" filter="url(#spk)"/>
<path d="M444.0 490.0 L452.0 530.2 L460.3 570.4 L468.1 610.6 L474.8 651.1 L480.2 692.7 L484.3 733.5 L487.2 774.4 L488.9 815.4 L488.2 856.3 L482.5 896.9 L471.6 936.4 L464.1 976.7 L453.9 1017.4 L439.6 1055.9 L422.6 1093.1 L405.4 1129.2 L381.4 1132.0 L393.8 1091.9 L405.0 1050.4 L415.4 1008.7 L423.2 966.4 L432.0 958.0 L438.0 935.0 L441.0 900.0 L439.5 884.9 L445.3 844.4 L447.0 803.4 L446.4 762.4 L444.6 721.5 L441.3 680.6 L436.0 638.9 L428.3 598.7 L418.6 558.8 L408.5 519.1 L400.4 478.9Z" fill="#e2e4e3"/>
<ellipse cx="423" cy="512" rx="3" ry="11" transform="rotate(-12 423 512)" fill="#8f9290" opacity=".7" filter="url(#bl2)"/>
<ellipse cx="458" cy="650" rx="3.4" ry="15" transform="rotate(-8 458 650)" fill="#8f9290" opacity=".7" filter="url(#bl2)"/>
<ellipse cx="469" cy="772" rx="3.2" ry="14" transform="rotate(-3 469 772)" fill="#8f9290" opacity=".7" filter="url(#bl2)"/>
<ellipse cx="429" cy="1045" rx="3.2" ry="13" transform="rotate(18 429 1045)" fill="#8f9290" opacity=".7" filter="url(#bl2)"/>
<path d="M444 490C445.3 496.7 449.3 516.8 452 530.2C454.7 543.6 457.6 557 460.3 570.4C462.9 583.8 465.7 597.2 468.1 610.6C470.5 624.1 472.7 637.4 474.8 651.1C476.8 664.7 478.6 679 480.2 692.7C481.7 706.4 483.1 719.9 484.3 733.5C485.4 747.1 486.4 760.8 487.2 774.4C487.9 788 488.7 801.7 488.9 815.4C489.1 829 489.3 842.8 488.2 856.3C487.1 869.9 485.3 883.5 482.5 896.9C479.8 910.2 474.7 923.1 471.6 936.4C468.6 949.7 467 963.2 464.1 976.7C461.1 990.2 458 1004.2 453.9 1017.4C449.8 1030.6 444.9 1043.2 439.6 1055.9C434.4 1068.5 428.3 1080.9 422.6 1093.1C416.9 1105.4 408.2 1123.2 405.4 1129.2" fill="none" stroke="#8a8c8a" stroke-width="1.1"/>
<path d="M400.4 478.9C401.8 485.6 405.5 505.8 408.5 519.1C411.5 532.4 415.3 545.6 418.6 558.8C421.9 572.1 425.4 585.3 428.3 598.7C431.2 612 433.8 625.3 436 638.9C438.1 652.6 439.9 666.8 441.3 680.6C442.7 694.3 443.7 707.8 444.6 721.5C445.5 735.1 446 748.8 446.4 762.4C446.8 776.1 447.2 789.8 447 803.4C446.8 817.1 446.6 830.8 445.3 844.4C444 857.9 440.5 878.2 439.5 884.9" fill="none" stroke="#8f918f" stroke-width=".9"/>
<path d="M423.2 966.4C421.9 973.5 418.5 994.7 415.4 1008.7C412.4 1022.7 408.6 1036.5 405 1050.4C401.4 1064.3 397.7 1078.3 393.8 1091.9C389.8 1105.5 383.4 1125.4 381.4 1132" fill="none" stroke="#8f918f" stroke-width=".9"/>
<path d="M420 893C430 905 446 905 452 918L452 950C440 955 425 948 410 958L400 948L410 925Z" fill="#fff" opacity=".92" filter="url(#bl1)"/>
<path d="M390 480C391.3 486.7 394.9 506.9 398 520.2C401 533.5 404.8 546.6 408.1 559.9C411.4 573.2 414.9 586.4 417.8 599.7C420.7 613.1 423.3 626.5 425.5 640C427.7 653.5 429.3 667.2 430.7 680.7C432.2 694.1 433.2 707 434 720.5C434.9 734 435.5 747.8 435.9 761.5C436.3 775.1 436.7 788.8 436.5 802.5C436.4 816.1 436.1 829.8 434.8 843.4C433.6 857 430 877.2 429 884" fill="none" stroke="#8a8c8a" stroke-width="22.8" stroke-linecap="round"/><path d="M390 480C391.3 486.7 394.9 506.9 398 520.2C401 533.5 404.8 546.6 408.1 559.9C411.4 573.2 414.9 586.4 417.8 599.7C420.7 613.1 423.3 626.5 425.5 640C427.7 653.5 429.3 667.2 430.7 680.7C432.2 694.1 433.2 707 434 720.5C434.9 734 435.5 747.8 435.9 761.5C436.3 775.1 436.7 788.8 436.5 802.5C436.4 816.1 436.1 829.8 434.8 843.4C433.6 857 430 877.2 429 884" fill="none" stroke="#fff" stroke-width="21.0" stroke-linecap="round"/>
<path d="M412.8 965C411.5 972 408 993.4 405 1007.2C402 1021.1 398.3 1034.3 394.8 1048C391.2 1061.7 387.5 1075.9 383.5 1089.5C379.6 1103.1 373.2 1122.9 371.1 1129.6" fill="none" stroke="#8a8c8a" stroke-width="22.8" stroke-linecap="round"/><path d="M412.8 965C411.5 972 408 993.4 405 1007.2C402 1021.1 398.3 1034.3 394.8 1048C391.2 1061.7 387.5 1075.9 383.5 1089.5C379.6 1103.1 373.2 1122.9 371.1 1129.6" fill="none" stroke="#fff" stroke-width="21.0" stroke-linecap="round"/>
<path d="M390 480C391.3 486.7 394.9 506.9 398 520.2C401 533.5 404.8 546.6 408.1 559.9C411.4 573.2 414.9 586.4 417.8 599.7C420.7 613.1 423.4 626.7 425.5 640C427.7 653.3 429.2 666.2 430.6 679.7C432.1 693.1 433.1 706.9 434 720.5C434.9 734.1 435.5 747.8 435.9 761.5C436.3 775.1 436.7 788.8 436.5 802.5C436.4 816.1 436.1 830 434.8 843.4C433.6 856.8 430.1 876.4 429.2 883" fill="none" stroke="#6e706e" stroke-width="10.8" stroke-linecap="round"/><path d="M390 480C391.3 486.7 394.9 506.9 398 520.2C401 533.5 404.8 546.6 408.1 559.9C411.4 573.2 414.9 586.4 417.8 599.7C420.7 613.1 423.4 626.7 425.5 640C427.7 653.3 429.2 666.2 430.6 679.7C432.1 693.1 433.1 706.9 434 720.5C434.9 734.1 435.5 747.8 435.9 761.5C436.3 775.1 436.7 788.8 436.5 802.5C436.4 816.1 436.1 830 434.8 843.4C433.6 856.8 430.1 876.4 429.2 883" fill="none" stroke="#adb0af" stroke-width="8.6" stroke-linecap="round"/>
<path d="M412.5 967C411.2 973.9 407.7 994.5 404.7 1008.2C401.7 1021.9 398 1035.4 394.5 1048.9C391 1062.5 387.4 1076.2 383.5 1089.5C379.7 1102.8 373.5 1122.1 371.4 1128.7" fill="none" stroke="#6e706e" stroke-width="10.8" stroke-linecap="round"/><path d="M412.5 967C411.2 973.9 407.7 994.5 404.7 1008.2C401.7 1021.9 398 1035.4 394.5 1048.9C391 1062.5 387.4 1076.2 383.5 1089.5C379.7 1102.8 373.5 1122.1 371.4 1128.7" fill="none" stroke="#adb0af" stroke-width="8.6" stroke-linecap="round"/>
<path d="M240 697C244 697.7 248.2 704.3 252 707C255.8 709.7 259.2 712.3 263 713C266.8 713.7 271.5 710 275 711C278.5 712 282.2 714.7 284 719C285.8 723.3 286.8 732 286 737C285.2 742 283 744.8 279 749C275 753.2 268 758 262 762C256 766 249 771.7 243 773C237 774.3 231.2 772.2 226 770C220.8 767.8 215.3 764.2 212 760C208.7 755.8 206.5 750.3 206 745C205.5 739.7 207.2 733.2 209 728C210.8 722.8 213.8 718.2 217 714C220.2 709.8 224.2 705.8 228 703C231.8 700.2 236 696.3 240 697Z" fill="#fff" stroke="#8a8c8a" stroke-width="1"/>
<path d="M194.8 532.0 L195.0 533.4 L195.2 534.9 L195.5 536.3 L195.8 537.8 L196.2 539.2 L196.7 540.6 L197.2 542.1 L197.7 543.5 L198.3 544.9 L199.0 546.4 L199.7 547.8 L200.5 549.2 L201.2 550.7 L202.1 552.1 L202.9 553.6 L203.8 555.0 L204.7 556.4 L205.7 557.9 L206.7 559.3 L207.6 560.8 L208.6 562.2 L209.7 563.6 L210.7 565.1 L211.7 566.5 L211.7 566.5 L212.7 565.1 L213.7 563.6 L214.8 562.2 L215.8 560.8 L216.7 559.3 L217.7 557.9 L218.7 556.4 L219.6 555.0 L220.5 553.6 L221.3 552.1 L222.2 550.7 L222.9 549.2 L223.7 547.8 L224.4 546.4 L225.1 544.9 L225.7 543.5 L226.2 542.1 L226.7 540.6 L227.2 539.2 L227.6 537.8 L227.9 536.3 L228.2 534.9 L228.4 533.4 L228.6 532.0Z" fill="#5b5e54"/><path d="M195.4 536.0H228.0" stroke="#f4f4f0" stroke-width="1.1"/><path d="M197.2 542.2H226.2" stroke="#f4f4f0" stroke-width="1.1"/><path d="M200.0 548.4H223.4" stroke="#f4f4f0" stroke-width="1.1"/><path d="M203.6 554.6H219.8" stroke="#f4f4f0" stroke-width="1.1"/><path d="M207.7 560.8H215.7" stroke="#f4f4f0" stroke-width="1.1"/><path d="M211.7 538.0l2.2 3.1l-2.2 3.1l2.2 3.1l-2.2 3.1l2.2 3.1l-2.2 3.1l2.2 3.1l-2.2 3.1" fill="none" stroke="#f4f4f0" stroke-width=".9"/>
<path d="M211.7 566.5 L209.5 568.6 L207.3 570.7 L205.2 572.8 L203.2 574.9 L201.4 577.0 L199.7 579.1 L198.2 581.2 L197.0 583.3 L196.0 585.4 L195.3 587.5 L194.8 589.6 L194.7 591.8 L194.8 593.9 L195.3 596.0 L196.0 598.1 L197.0 600.2 L198.2 602.3 L199.7 604.4 L201.4 606.5 L203.2 608.6 L205.2 610.7 L207.3 612.8 L209.5 614.9 L211.7 617.0 L211.7 617.0 L213.9 614.9 L216.1 612.8 L218.2 610.7 L220.2 608.6 L222.0 606.5 L223.7 604.4 L225.2 602.3 L226.4 600.2 L227.4 598.1 L228.1 596.0 L228.6 593.9 L228.7 591.8 L228.6 589.6 L228.1 587.5 L227.4 585.4 L226.4 583.3 L225.2 581.2 L223.7 579.1 L222.0 577.0 L220.2 574.9 L218.2 572.8 L216.1 570.7 L213.9 568.6 L211.7 566.5Z" fill="#5b5e54"/><path d="M207.5 570.5H215.9" stroke="#f4f4f0" stroke-width="1.1"/><path d="M201.6 576.7H221.8" stroke="#f4f4f0" stroke-width="1.1"/><path d="M197.2 582.9H226.2" stroke="#f4f4f0" stroke-width="1.1"/><path d="M194.9 589.1H228.5" stroke="#f4f4f0" stroke-width="1.1"/><path d="M195.1 595.3H228.3" stroke="#f4f4f0" stroke-width="1.1"/><path d="M197.7 601.5H225.7" stroke="#f4f4f0" stroke-width="1.1"/><path d="M202.4 607.7H221.0" stroke="#f4f4f0" stroke-width="1.1"/><path d="M208.4 613.9H215.0" stroke="#f4f4f0" stroke-width="1.1"/><path d="M211.7 572.5l2.2 3.1l-2.2 3.1l2.2 3.1l-2.2 3.1l2.2 3.1l-2.2 3.1l2.2 3.1l-2.2 3.1l2.2 3.1l-2.2 3.1l2.2 3.1l-2.2 3.1l2.2 3.1l-2.2 3.1" fill="none" stroke="#f4f4f0" stroke-width=".9"/>
<path d="M211.7 617.0 L209.5 619.5 L207.3 622.1 L205.2 624.6 L203.2 627.2 L201.4 629.7 L199.7 632.2 L198.2 634.8 L197.0 637.3 L196.0 639.9 L195.3 642.4 L194.8 645.0 L194.7 647.5 L194.8 650.0 L195.3 652.6 L196.0 655.1 L197.0 657.7 L198.2 660.2 L199.7 662.8 L201.4 665.3 L203.2 667.8 L205.2 670.4 L207.3 672.9 L209.5 675.5 L211.7 678.0 L211.7 678.0 L213.9 675.5 L216.1 672.9 L218.2 670.4 L220.2 667.8 L222.0 665.3 L223.7 662.8 L225.2 660.2 L226.4 657.7 L227.4 655.1 L228.1 652.6 L228.6 650.0 L228.7 647.5 L228.6 645.0 L228.1 642.4 L227.4 639.9 L226.4 637.3 L225.2 634.8 L223.7 632.2 L222.0 629.7 L220.2 627.2 L218.2 624.6 L216.1 622.1 L213.9 619.5 L211.7 617.0Z" fill="#5b5e54"/><path d="M208.2 621.0H215.2" stroke="#f4f4f0" stroke-width="1.1"/><path d="M203.2 627.2H220.2" stroke="#f4f4f0" stroke-width="1.1"/><path d="M199.0 633.4H224.4" stroke="#f4f4f0" stroke-width="1.1"/><path d="M196.1 639.6H227.3" stroke="#f4f4f0" stroke-width="1.1"/><path d="M194.8 645.8H228.6" stroke="#f4f4f0" stroke-width="1.1"/><path d="M195.2 652.0H228.2" stroke="#f4f4f0" stroke-width="1.1"/><path d="M197.2 658.2H226.2" stroke="#f4f4f0" stroke-width="1.1"/><path d="M200.7 664.4H222.7" stroke="#f4f4f0" stroke-width="1.1"/><path d="M205.4 670.6H218.0" stroke="#f4f4f0" stroke-width="1.1"/><path d="M211.7 623.0l2.2 3.1l-2.2 3.1l2.2 3.1l-2.2 3.1l2.2 3.1l-2.2 3.1l2.2 3.1l-2.2 3.1l2.2 3.1l-2.2 3.1l2.2 3.1l-2.2 3.1l2.2 3.1l-2.2 3.1l2.2 3.1l-2.2 3.1" fill="none" stroke="#f4f4f0" stroke-width=".9"/>
<path d="M208.7 940.0 L206.6 942.4 L204.5 944.8 L202.6 947.1 L200.7 949.5 L199.1 951.9 L197.6 954.2 L196.3 956.6 L195.2 959.0 L194.4 961.4 L193.8 963.8 L193.5 966.1 L193.5 968.5 L193.8 970.9 L194.3 973.2 L195.1 975.6 L196.1 978.0 L197.3 980.4 L198.8 982.8 L200.5 985.1 L202.3 987.5 L204.2 989.9 L206.2 992.2 L208.4 994.6 L210.5 997.0 L210.5 997.0 L212.6 994.6 L214.8 992.2 L216.8 989.9 L218.7 987.5 L220.5 985.1 L222.2 982.8 L223.7 980.4 L224.9 978.0 L225.9 975.6 L226.7 973.2 L227.2 970.9 L227.5 968.5 L227.5 966.1 L227.2 963.8 L226.6 961.4 L225.8 959.0 L224.7 956.6 L223.4 954.2 L221.9 951.9 L220.3 949.5 L218.4 947.1 L216.5 944.8 L214.4 942.4 L212.3 940.0Z" fill="#5b5e54"/><path d="M205.2 944.0H215.8" stroke="#f4f4f0" stroke-width="1.1"/><path d="M200.2 950.2H220.8" stroke="#f4f4f0" stroke-width="1.1"/><path d="M196.4 956.4H224.6" stroke="#f4f4f0" stroke-width="1.1"/><path d="M194.1 962.6H226.9" stroke="#f4f4f0" stroke-width="1.1"/><path d="M193.5 968.8H227.5" stroke="#f4f4f0" stroke-width="1.1"/><path d="M194.8 975.0H226.2" stroke="#f4f4f0" stroke-width="1.1"/><path d="M197.8 981.2H223.2" stroke="#f4f4f0" stroke-width="1.1"/><path d="M202.2 987.4H218.8" stroke="#f4f4f0" stroke-width="1.1"/><path d="M207.4 993.6H213.6" stroke="#f4f4f0" stroke-width="1.1"/><path d="M210.5 946.0l2.2 3.1l-2.2 3.1l2.2 3.1l-2.2 3.1l2.2 3.1l-2.2 3.1l2.2 3.1l-2.2 3.1l2.2 3.1l-2.2 3.1l2.2 3.1l-2.2 3.1l2.2 3.1l-2.2 3.1l2.2 3.1l-2.2 3.1" fill="none" stroke="#f4f4f0" stroke-width=".9"/>
<path d="M210.5 997.0 L208.3 999.5 L206.1 1002.1 L204.0 1004.6 L202.0 1007.2 L200.2 1009.7 L198.5 1012.2 L197.0 1014.8 L195.8 1017.3 L194.8 1019.9 L194.1 1022.4 L193.6 1025.0 L193.5 1027.5 L193.6 1030.0 L194.1 1032.6 L194.8 1035.1 L195.8 1037.7 L197.0 1040.2 L198.5 1042.8 L200.2 1045.3 L202.0 1047.8 L204.0 1050.4 L206.1 1052.9 L208.3 1055.5 L210.5 1058.0 L210.5 1058.0 L212.7 1055.5 L214.9 1052.9 L217.0 1050.4 L219.0 1047.8 L220.8 1045.3 L222.5 1042.8 L224.0 1040.2 L225.2 1037.7 L226.2 1035.1 L226.9 1032.6 L227.4 1030.0 L227.5 1027.5 L227.4 1025.0 L226.9 1022.4 L226.2 1019.9 L225.2 1017.3 L224.0 1014.8 L222.5 1012.2 L220.8 1009.7 L219.0 1007.2 L217.0 1004.6 L214.9 1002.1 L212.7 999.5 L210.5 997.0Z" fill="#5b5e54"/><path d="M207.0 1001.0H214.0" stroke="#f4f4f0" stroke-width="1.1"/><path d="M202.0 1007.2H219.0" stroke="#f4f4f0" stroke-width="1.1"/><path d="M197.8 1013.4H223.2" stroke="#f4f4f0" stroke-width="1.1"/><path d="M194.9 1019.6H226.1" stroke="#f4f4f0" stroke-width="1.1"/><path d="M193.6 1025.8H227.4" stroke="#f4f4f0" stroke-width="1.1"/><path d="M194.0 1032.0H227.0" stroke="#f4f4f0" stroke-width="1.1"/><path d="M196.0 1038.2H225.0" stroke="#f4f4f0" stroke-width="1.1"/><path d="M199.5 1044.4H221.5" stroke="#f4f4f0" stroke-width="1.1"/><path d="M204.2 1050.6H216.8" stroke="#f4f4f0" stroke-width="1.1"/><path d="M210.5 1003.0l2.2 3.1l-2.2 3.1l2.2 3.1l-2.2 3.1l2.2 3.1l-2.2 3.1l2.2 3.1l-2.2 3.1l2.2 3.1l-2.2 3.1l2.2 3.1l-2.2 3.1l2.2 3.1l-2.2 3.1l2.2 3.1l-2.2 3.1" fill="none" stroke="#f4f4f0" stroke-width=".9"/>
<path d="M210.5 1058.0 L208.3 1060.6 L206.1 1063.2 L204.0 1065.8 L202.0 1068.3 L200.2 1070.9 L198.5 1073.5 L197.0 1076.1 L195.8 1078.7 L194.8 1081.2 L194.1 1083.8 L193.6 1086.4 L193.5 1089.0 L193.6 1091.6 L194.1 1094.2 L194.8 1096.8 L195.8 1099.3 L197.0 1101.9 L198.5 1104.5 L200.2 1107.1 L202.0 1109.7 L204.0 1112.2 L206.1 1114.8 L208.3 1117.4 L210.5 1120.0 L210.5 1120.0 L212.7 1117.4 L214.9 1114.8 L217.0 1112.2 L219.0 1109.7 L220.8 1107.1 L222.5 1104.5 L224.0 1101.9 L225.2 1099.3 L226.2 1096.8 L226.9 1094.2 L227.4 1091.6 L227.5 1089.0 L227.4 1086.4 L226.9 1083.8 L226.2 1081.2 L225.2 1078.7 L224.0 1076.1 L222.5 1073.5 L220.8 1070.9 L219.0 1068.3 L217.0 1065.8 L214.9 1063.2 L212.7 1060.6 L210.5 1058.0Z" fill="#5b5e54"/><path d="M207.1 1062.0H213.9" stroke="#f4f4f0" stroke-width="1.1"/><path d="M202.1 1068.2H218.9" stroke="#f4f4f0" stroke-width="1.1"/><path d="M197.9 1074.4H223.1" stroke="#f4f4f0" stroke-width="1.1"/><path d="M195.0 1080.6H226.0" stroke="#f4f4f0" stroke-width="1.1"/><path d="M193.6 1086.8H227.4" stroke="#f4f4f0" stroke-width="1.1"/><path d="M193.8 1093.0H227.2" stroke="#f4f4f0" stroke-width="1.1"/><path d="M195.7 1099.2H225.3" stroke="#f4f4f0" stroke-width="1.1"/><path d="M199.0 1105.4H222.0" stroke="#f4f4f0" stroke-width="1.1"/><path d="M203.5 1111.6H217.5" stroke="#f4f4f0" stroke-width="1.1"/><path d="M208.6 1117.8H212.4" stroke="#f4f4f0" stroke-width="1.1"/><path d="M210.5 1064.0l2.2 3.1l-2.2 3.1l2.2 3.1l-2.2 3.1l2.2 3.1l-2.2 3.1l2.2 3.1l-2.2 3.1l2.2 3.1l-2.2 3.1l2.2 3.1l-2.2 3.1l2.2 3.1l-2.2 3.1l2.2 3.1l-2.2 3.1l2.2 3.1l-2.2 3.1" fill="none" stroke="#f4f4f0" stroke-width=".9"/>
<g transform="matrix(0.689 0.725 -0.725 0.689 227.8 705.7)"><use href="#tC"/><text class="tl" transform="matrix(1 0 0 -1 0 2.4)">T</text></g><g transform="matrix(0.715 0.699 -0.699 0.715 235.7 713.6)"><use href="#tC"/><text class="tl" transform="matrix(1 0 0 -1 0 2.4)">C</text></g><g transform="matrix(0.709 0.705 -0.705 0.709 244.3 722.0)"><use href="#tG"/><text class="tl" transform="matrix(1 0 0 -1 0 2.4)">G</text></g><g transform="matrix(0.706 0.708 -0.708 0.706 252.0 729.7)"><use href="#tA"/><text class="tl" transform="matrix(1 0 0 -1 0 2.4)">A</text></g><g transform="matrix(0.706 0.708 -0.708 0.706 260.5 738.2)"><use href="#tC"/><text class="tl" transform="matrix(1 0 0 -1 0 2.4)">C</text></g><g transform="matrix(0.708 0.707 -0.707 0.708 268.3 746.0)"><use href="#tA"/><text class="tl" transform="matrix(1 0 0 -1 0 2.4)">A</text></g><g transform="matrix(0.712 0.702 -0.702 0.712 276.8 754.5)"><use href="#tC"/><text class="tl" transform="matrix(1 0 0 -1 0 2.4)">C</text></g><g transform="matrix(0.719 0.695 -0.695 0.719 284.7 762.2)"><use href="#tG"/><text class="tl" transform="matrix(1 0 0 -1 0 2.4)">G</text></g><g transform="matrix(0.714 0.7 -0.7 0.714 293.3 770.5)"><use href="#tC"/><text class="tl" transform="matrix(1 0 0 -1 0 2.4)">T</text></g><g transform="matrix(0.696 0.718 -0.718 0.696 301.0 778.3)"><use href="#tC"/><text class="tl" transform="matrix(1 0 0 -1 0 2.4)">T</text></g><g transform="matrix(0.594 0.804 -0.804 0.594 308.4 786.7)"><use href="#tC"/><text class="tl" transform="matrix(1 0 0 -1 0 2.4)">C</text></g><g transform="matrix(0.434 0.901 -0.901 0.434 313.6 795.1)"><use href="#tG"/><text class="tl" transform="matrix(1 0 0 -1 0 2.4)">G</text></g><g transform="matrix(0.231 0.973 -0.973 0.231 317.1 805.2)"><use href="#tC"/><text class="tl" transform="matrix(1 0 0 -1 0 2.4)">T</text></g><g transform="matrix(-0.09 0.996 -0.996 -0.09 318.0 814.3)"><use href="#tA"/><text class="tl" transform="matrix(1 0 0 -1 0 2.4)">A</text></g>
<g transform="matrix(-0.735 0.678 -0.678 -0.735 298.4 845.5)"><use href="#tA"/><text class="tl" transform="matrix(1 0 0 -1 0 2.4)">A</text></g><g transform="matrix(-0.731 0.683 -0.683 -0.731 289.5 853.7)"><use href="#tG"/><text class="tl" transform="matrix(1 0 0 -1 0 2.4)">G</text></g><g transform="matrix(-0.706 0.708 -0.708 -0.706 281.5 861.5)"><use href="#tC"/><text class="tl" transform="matrix(1 0 0 -1 0 2.4)">T</text></g><g transform="matrix(-0.7 0.714 -0.714 -0.7 273.0 870.0)"><use href="#tA"/><text class="tl" transform="matrix(1 0 0 -1 0 2.4)">A</text></g><g transform="matrix(-0.699 0.716 -0.716 -0.699 265.3 877.9)"><use href="#tG"/><text class="tl" transform="matrix(1 0 0 -1 0 2.4)">G</text></g><g transform="matrix(-0.701 0.713 -0.713 -0.701 257.0 886.5)"><use href="#tC"/><text class="tl" transform="matrix(1 0 0 -1 0 2.4)">C</text></g><g transform="matrix(-0.703 0.711 -0.711 -0.703 249.3 894.3)"><use href="#tA"/><text class="tl" transform="matrix(1 0 0 -1 0 2.4)">A</text></g><g transform="matrix(-0.703 0.711 -0.711 -0.703 240.8 902.8)"><use href="#tC"/><text class="tl" transform="matrix(1 0 0 -1 0 2.4)">T</text></g><g transform="matrix(-0.704 0.71 -0.71 -0.704 233.1 910.7)"><use href="#tG"/><text class="tl" transform="matrix(1 0 0 -1 0 2.4)">G</text></g><g transform="matrix(-0.705 0.709 -0.709 -0.705 224.6 919.2)"><use href="#tC"/><text class="tl" transform="matrix(1 0 0 -1 0 2.4)">T</text></g>
<path d="M194.7 529C195.2 531.3 195.9 538.3 197.4 542.7C198.9 547 201.5 551.1 203.9 555.1C206.3 559 208.8 563 211.8 566.6C214.8 570.2 218.9 572.9 221.6 576.5C224.4 580.2 227.7 584.4 228.4 588.6C229 592.9 227.4 597.9 225.4 601.9C223.4 605.9 219.3 609.2 216.3 612.6C213.3 615.9 210.3 618.5 207.4 622C204.5 625.4 201.2 629.2 199.1 633.2C197 637.3 194.9 642 194.7 646.4C194.6 650.8 196.2 655.7 198 659.8C199.9 664 203.1 667.6 206 671.3C208.8 675 212 678.4 215 682C218 685.6 221 689.2 224 692.7C227.1 696.3 230.2 699.7 233.4 703.1C236.6 706.5 240.1 709.7 243.4 713C246.7 716.2 250 719.5 253.3 722.8C256.6 726.1 259.9 729.4 263.2 732.7C266.5 736 269.8 739.3 273.1 742.6C276.4 745.9 279.7 749.2 283 752.5C286.4 755.8 289.9 759.1 293.1 762.2C296.3 765.4 299.2 768.1 302.4 771.4C305.5 774.6 309 777.9 311.9 781.6C314.7 785.3 317.3 789.3 319.2 793.5C321.1 797.7 322.7 802.3 323.3 806.8C323.9 811.4 323.7 816.3 322.6 820.7C321.6 825.1 319.4 829.5 317 833.5C314.6 837.4 311.3 840.8 308.1 844.2C304.9 847.6 301.3 850.6 297.9 853.8C294.5 857 291.1 860.2 287.7 863.5C284.4 866.7 281.2 870.1 277.9 873.4C274.6 876.7 271.4 880.1 268.1 883.4C264.8 886.7 261.6 890.1 258.3 893.4C255 896.7 251.7 900 248.5 903.4C245.2 906.7 241.8 910.1 238.6 913.3C235.4 916.5 232.6 919.4 229.5 922.5C226.3 925.7 223.1 929.5 219.6 932.4C216 935.4 211.6 937.3 208.2 940.5C204.9 943.6 201.8 947.4 199.4 951.3C197 955.3 194.4 959.7 193.8 964C193.2 968.4 194.3 973.5 195.9 977.7C197.6 981.9 200.9 985.6 203.7 989.3C206.5 992.9 209.9 996.2 212.9 999.8C215.9 1003.4 219.2 1006.8 221.6 1010.8C223.9 1014.7 226.5 1019.1 227.1 1023.5C227.8 1027.9 226.9 1033 225.4 1037.2C223.9 1041.5 220.8 1045.3 218 1049.1C215.3 1052.8 212 1056.1 209 1059.7C206 1063.4 202.7 1067 200.3 1070.7C197.9 1074.5 195.4 1078 194.5 1082.3C193.5 1086.5 193.5 1091.7 194.6 1096.1C195.7 1100.4 198.5 1104.5 201.1 1108.4C203.6 1112.3 208.4 1117.5 209.9 1119.3" fill="none" stroke="#7d7f7c" stroke-width="13.4" stroke-linecap="round"/><path d="M194.7 529C195.2 531.3 195.9 538.3 197.4 542.7C198.9 547 201.5 551.1 203.9 555.1C206.3 559 208.8 563 211.8 566.6C214.8 570.2 218.9 572.9 221.6 576.5C224.4 580.2 227.7 584.4 228.4 588.6C229 592.9 227.4 597.9 225.4 601.9C223.4 605.9 219.3 609.2 216.3 612.6C213.3 615.9 210.3 618.5 207.4 622C204.5 625.4 201.2 629.2 199.1 633.2C197 637.3 194.9 642 194.7 646.4C194.6 650.8 196.2 655.7 198 659.8C199.9 664 203.1 667.6 206 671.3C208.8 675 212 678.4 215 682C218 685.6 221 689.2 224 692.7C227.1 696.3 230.2 699.7 233.4 703.1C236.6 706.5 240.1 709.7 243.4 713C246.7 716.2 250 719.5 253.3 722.8C256.6 726.1 259.9 729.4 263.2 732.7C266.5 736 269.8 739.3 273.1 742.6C276.4 745.9 279.7 749.2 283 752.5C286.4 755.8 289.9 759.1 293.1 762.2C296.3 765.4 299.2 768.1 302.4 771.4C305.5 774.6 309 777.9 311.9 781.6C314.7 785.3 317.3 789.3 319.2 793.5C321.1 797.7 322.7 802.3 323.3 806.8C323.9 811.4 323.7 816.3 322.6 820.7C321.6 825.1 319.4 829.5 317 833.5C314.6 837.4 311.3 840.8 308.1 844.2C304.9 847.6 301.3 850.6 297.9 853.8C294.5 857 291.1 860.2 287.7 863.5C284.4 866.7 281.2 870.1 277.9 873.4C274.6 876.7 271.4 880.1 268.1 883.4C264.8 886.7 261.6 890.1 258.3 893.4C255 896.7 251.7 900 248.5 903.4C245.2 906.7 241.8 910.1 238.6 913.3C235.4 916.5 232.6 919.4 229.5 922.5C226.3 925.7 223.1 929.5 219.6 932.4C216 935.4 211.6 937.3 208.2 940.5C204.9 943.6 201.8 947.4 199.4 951.3C197 955.3 194.4 959.7 193.8 964C193.2 968.4 194.3 973.5 195.9 977.7C197.6 981.9 200.9 985.6 203.7 989.3C206.5 992.9 209.9 996.2 212.9 999.8C215.9 1003.4 219.2 1006.8 221.6 1010.8C223.9 1014.7 226.5 1019.1 227.1 1023.5C227.8 1027.9 226.9 1033 225.4 1037.2C223.9 1041.5 220.8 1045.3 218 1049.1C215.3 1052.8 212 1056.1 209 1059.7C206 1063.4 202.7 1067 200.3 1070.7C197.9 1074.5 195.4 1078 194.5 1082.3C193.5 1086.5 193.5 1091.7 194.6 1096.1C195.7 1100.4 198.5 1104.5 201.1 1108.4C203.6 1112.3 208.4 1117.5 209.9 1119.3" fill="none" stroke="#b3b6b4" stroke-width="11.6" stroke-linecap="round"/>
<g transform="matrix(-0.714 0.7 0.7 0.714 201.5 696.4)"><use href="#tC"/><text class="tl" transform="matrix(1 0 0 -1 0 2.4)">T</text></g><g transform="matrix(-0.716 0.698 0.698 0.716 193.6 704.1)"><use href="#tC"/><text class="tl" transform="matrix(1 0 0 -1 0 2.4)">C</text></g><g transform="matrix(-0.716 0.698 0.698 0.716 185.0 712.5)"><use href="#tG"/><text class="tl" transform="matrix(1 0 0 -1 0 2.4)">G</text></g><g transform="matrix(-0.715 0.699 0.699 0.715 177.1 720.2)"><use href="#tA"/><text class="tl" transform="matrix(1 0 0 -1 0 2.4)">A</text></g><g transform="matrix(-0.714 0.7 0.7 0.714 168.6 728.6)"><use href="#tC"/><text class="tl" transform="matrix(1 0 0 -1 0 2.4)">T</text></g><g transform="matrix(-0.713 0.701 0.701 0.713 160.7 736.3)"><use href="#tC"/><text class="tl" transform="matrix(1 0 0 -1 0 2.4)">C</text></g><g transform="matrix(-0.708 0.707 0.707 0.708 152.2 744.7)"><use href="#tG"/><text class="tl" transform="matrix(1 0 0 -1 0 2.4)">G</text></g><g transform="matrix(-0.703 0.711 0.711 0.703 144.5 752.5)"><use href="#tG"/><text class="tl" transform="matrix(1 0 0 -1 0 2.4)">G</text></g><g transform="matrix(-0.698 0.716 0.716 0.698 136.1 761.0)"><use href="#tC"/><text class="tl" transform="matrix(1 0 0 -1 0 2.4)">C</text></g><g transform="matrix(-0.692 0.722 0.722 0.692 128.5 768.8)"><use href="#tC"/><text class="tl" transform="matrix(1 0 0 -1 0 2.4)">T</text></g><g transform="matrix(-0.684 0.729 0.729 0.684 120.3 777.5)"><use href="#tG"/><text class="tl" transform="matrix(1 0 0 -1 0 2.4)">G</text></g><g transform="matrix(-0.668 0.744 0.744 0.668 112.9 785.5)"><use href="#tC"/><text class="tl" transform="matrix(1 0 0 -1 0 2.4)">T</text></g><g transform="matrix(-0.596 0.803 0.803 0.596 105.5 794.2)"><use href="#tG"/><text class="tl" transform="matrix(1 0 0 -1 0 2.4)">G</text></g><g transform="matrix(-0.366 0.931 0.931 0.366 100.9 802.5)"><use href="#tC"/><text class="tl" transform="matrix(1 0 0 -1 0 2.4)">C</text></g><g transform="matrix(0.037 0.999 0.999 -0.037 99.3 811.9)"><use href="#tC"/><text class="tl" transform="matrix(1 0 0 -1 0 2.4)">C</text></g><g transform="matrix(0.343 0.939 0.939 -0.343 101.1 820.9)"><use href="#tA"/><text class="tl" transform="matrix(1 0 0 -1 0 2.4)">A</text></g><g transform="matrix(0.651 0.759 0.759 -0.651 106.0 829.5)"><use href="#tA"/><text class="tl" transform="matrix(1 0 0 -1 0 2.4)">A</text></g><g transform="matrix(0.698 0.716 0.716 -0.698 113.3 837.1)"><use href="#tG"/><text class="tl" transform="matrix(1 0 0 -1 0 2.4)">G</text></g><g transform="matrix(0.707 0.708 0.708 -0.707 121.7 845.6)"><use href="#tG"/><text class="tl" transform="matrix(1 0 0 -1 0 2.4)">G</text></g><g transform="matrix(0.712 0.703 0.703 -0.712 129.5 853.3)"><use href="#tC"/><text class="tl" transform="matrix(1 0 0 -1 0 2.4)">C</text></g><g transform="matrix(0.716 0.698 0.698 -0.716 138.0 861.7)"><use href="#tC"/><text class="tl" transform="matrix(1 0 0 -1 0 2.4)">T</text></g><g transform="matrix(0.719 0.695 0.695 -0.719 145.9 869.3)"><use href="#tA"/><text class="tl" transform="matrix(1 0 0 -1 0 2.4)">A</text></g><g transform="matrix(0.724 0.69 0.69 -0.724 154.5 877.6)"><use href="#tC"/><text class="tl" transform="matrix(1 0 0 -1 0 2.4)">C</text></g><g transform="matrix(0.726 0.688 0.688 -0.726 162.5 885.2)"><use href="#tC"/><text class="tl" transform="matrix(1 0 0 -1 0 2.4)">T</text></g><g transform="matrix(0.728 0.685 0.685 -0.728 171.2 893.4)"><use href="#tC"/><text class="tl" transform="matrix(1 0 0 -1 0 2.4)">C</text></g><g transform="matrix(0.729 0.684 0.684 -0.729 179.2 900.9)"><use href="#tA"/><text class="tl" transform="matrix(1 0 0 -1 0 2.4)">A</text></g><g transform="matrix(0.729 0.684 0.684 -0.729 188.0 909.1)"><use href="#tG"/><text class="tl" transform="matrix(1 0 0 -1 0 2.4)">G</text></g><g transform="matrix(0.729 0.685 0.685 -0.729 196.0 916.7)"><use href="#tC"/><text class="tl" transform="matrix(1 0 0 -1 0 2.4)">T</text></g>
<path d="M228.7 529C228.2 531.3 227.5 538.3 226 542.7C224.5 547 221.9 551.1 219.5 555.1C217.1 559 214.6 563 211.6 566.6C208.6 570.2 204.5 572.9 201.8 576.5C199 580.2 195.7 584.4 195 588.6C194.4 592.9 196 597.9 198 601.9C200 605.9 204 609.1 207.1 612.6C210.2 616 213.7 619.2 216.7 622.8C219.6 626.3 222.8 630 224.8 634.1C226.8 638.2 228.7 643 228.7 647.4C228.7 651.8 226.9 656.6 224.9 660.7C222.9 664.8 219.7 668.5 216.8 672.1C213.9 675.7 210.6 679.1 207.3 682.4C204.1 685.8 200.8 688.9 197.4 692.3C194 695.7 190.1 699.4 186.7 702.8C183.2 706.1 180 709.3 176.7 712.5C173.3 715.8 170 719.1 166.6 722.3C163.3 725.6 160 728.9 156.6 732.1C153.3 735.4 150 738.7 146.7 742C143.4 745.3 140.1 748.6 136.8 751.9C133.6 755.3 130.3 758.6 127.1 761.9C123.8 765.3 120.6 768.7 117.4 772.1C114.2 775.5 111 778.8 107.9 782.4C104.9 785.9 101.5 789.3 99.1 793.2C96.8 797.2 94.6 801.7 93.9 806.1C93.1 810.6 93.6 815.6 94.8 820C95.9 824.4 98.3 828.7 100.9 832.5C103.5 836.2 107.3 839.2 110.6 842.6C113.8 845.9 117.1 849.2 120.4 852.5C123.7 855.8 127.1 859.1 130.4 862.4C133.7 865.6 137.1 868.9 140.4 872.1C143.8 875.4 147.1 878.6 150.5 881.8C153.9 885.1 157.3 888.3 160.7 891.5C164.1 894.7 167.5 897.9 170.9 901.1C174.3 904.3 177.7 907.4 181.1 910.6C184.5 913.8 187.9 917 191.3 920.2C194.7 923.4 198.1 926.6 201.5 929.8C204.9 933 208.5 936 211.7 939.4C214.9 942.8 218.2 946.2 220.7 950.1C223.2 954 226.1 958.2 226.9 962.5C227.7 966.9 227.1 972 225.7 976.3C224.2 980.5 221 984.3 218.3 988.1C215.5 991.8 212.2 994.9 209.1 998.6C206 1002.3 202.2 1006.3 199.7 1010.3C197.2 1014.4 194.7 1018.6 194 1023C193.2 1027.4 193.9 1032.4 195.4 1036.7C196.8 1041 199.9 1044.9 202.6 1048.6C205.3 1052.4 208.7 1055.7 211.7 1059.3C214.6 1063 217.9 1066.4 220.4 1070.3C222.9 1074.2 225.7 1078.4 226.6 1082.7C227.6 1087.1 227.4 1092.2 226.3 1096.5C225.1 1100.9 222.1 1105.1 219.6 1108.8C217.2 1112.5 212.8 1117.2 211.5 1118.9" fill="none" stroke="#7d7f7c" stroke-width="13.4" stroke-linecap="round"/><path d="M228.7 529C228.2 531.3 227.5 538.3 226 542.7C224.5 547 221.9 551.1 219.5 555.1C217.1 559 214.6 563 211.6 566.6C208.6 570.2 204.5 572.9 201.8 576.5C199 580.2 195.7 584.4 195 588.6C194.4 592.9 196 597.9 198 601.9C200 605.9 204 609.1 207.1 612.6C210.2 616 213.7 619.2 216.7 622.8C219.6 626.3 222.8 630 224.8 634.1C226.8 638.2 228.7 643 228.7 647.4C228.7 651.8 226.9 656.6 224.9 660.7C222.9 664.8 219.7 668.5 216.8 672.1C213.9 675.7 210.6 679.1 207.3 682.4C204.1 685.8 200.8 688.9 197.4 692.3C194 695.7 190.1 699.4 186.7 702.8C183.2 706.1 180 709.3 176.7 712.5C173.3 715.8 170 719.1 166.6 722.3C163.3 725.6 160 728.9 156.6 732.1C153.3 735.4 150 738.7 146.7 742C143.4 745.3 140.1 748.6 136.8 751.9C133.6 755.3 130.3 758.6 127.1 761.9C123.8 765.3 120.6 768.7 117.4 772.1C114.2 775.5 111 778.8 107.9 782.4C104.9 785.9 101.5 789.3 99.1 793.2C96.8 797.2 94.6 801.7 93.9 806.1C93.1 810.6 93.6 815.6 94.8 820C95.9 824.4 98.3 828.7 100.9 832.5C103.5 836.2 107.3 839.2 110.6 842.6C113.8 845.9 117.1 849.2 120.4 852.5C123.7 855.8 127.1 859.1 130.4 862.4C133.7 865.6 137.1 868.9 140.4 872.1C143.8 875.4 147.1 878.6 150.5 881.8C153.9 885.1 157.3 888.3 160.7 891.5C164.1 894.7 167.5 897.9 170.9 901.1C174.3 904.3 177.7 907.4 181.1 910.6C184.5 913.8 187.9 917 191.3 920.2C194.7 923.4 198.1 926.6 201.5 929.8C204.9 933 208.5 936 211.7 939.4C214.9 942.8 218.2 946.2 220.7 950.1C223.2 954 226.1 958.2 226.9 962.5C227.7 966.9 227.1 972 225.7 976.3C224.2 980.5 221 984.3 218.3 988.1C215.5 991.8 212.2 994.9 209.1 998.6C206 1002.3 202.2 1006.3 199.7 1010.3C197.2 1014.4 194.7 1018.6 194 1023C193.2 1027.4 193.9 1032.4 195.4 1036.7C196.8 1041 199.9 1044.9 202.6 1048.6C205.3 1052.4 208.7 1055.7 211.7 1059.3C214.6 1063 217.9 1066.4 220.4 1070.3C222.9 1074.2 225.7 1078.4 226.6 1082.7C227.6 1087.1 227.4 1092.2 226.3 1096.5C225.1 1100.9 222.1 1105.1 219.6 1108.8C217.2 1112.5 212.8 1117.2 211.5 1118.9" fill="none" stroke="#fff" stroke-width="11.6" stroke-linecap="round"/>
<path d="M224 604C223 605.1 220.2 608.6 218.1 610.8C216 613 213.7 614.9 211.7 617.1C209.6 619.3 207.6 621.7 205.8 623.9C204 626.1 201.8 629.2 201 630.3" fill="none" stroke="#7d7f7c" stroke-width="13.4" stroke-linecap="butt"/><path d="M224 604C223 605.1 220.2 608.6 218.1 610.8C216 613 213.7 614.9 211.7 617.1C209.6 619.3 207.6 621.7 205.8 623.9C204 626.1 201.8 629.2 201 630.3" fill="none" stroke="#b3b6b4" stroke-width="11.6" stroke-linecap="butt"/>
<path d="M226 601C225.1 602.2 222.4 606 220.6 608.2C218.7 610.3 216.9 611.9 215 613.9C213 615.9 210.6 618.3 208.7 620.4C206.9 622.5 205.3 624.4 203.7 626.6C202.1 628.7 199.9 632.1 199.1 633.2" fill="none" stroke="#b3b6b4" stroke-width="11.6"/>
<path d="M199 983C199.9 984.2 202.6 988 204.4 990.1C206.2 992.3 207.9 994 209.7 996.1C211.6 998.3 213.8 1000.8 215.6 1002.9C217.4 1005.1 219.7 1008.2 220.5 1009.3" fill="none" stroke="#7d7f7c" stroke-width="13.4" stroke-linecap="butt"/><path d="M199 983C199.9 984.2 202.6 988 204.4 990.1C206.2 992.3 207.9 994 209.7 996.1C211.6 998.3 213.8 1000.8 215.6 1002.9C217.4 1005.1 219.7 1008.2 220.5 1009.3" fill="none" stroke="#b3b6b4" stroke-width="11.6" stroke-linecap="butt"/>
<path d="M197.1 980C197.9 981.1 199.9 984.4 201.6 986.6C203.3 988.9 205.5 991.4 207.4 993.5C209.2 995.7 210.8 997.4 212.7 999.5C214.5 1001.7 216.8 1004.3 218.4 1006.4C220.1 1008.5 221.8 1011.2 222.5 1012.2" fill="none" stroke="#b3b6b4" stroke-width="11.6"/>
<g transform="matrix(0.717 0.697 0.697 -0.717 241.9 756.5)"><use href="#tG"/><text class="tl" transform="matrix(1 0 0 -1 0 2.4)">G</text></g><g transform="matrix(0.717 0.697 0.697 -0.717 250.1 764.5)"><use href="#tC"/><text class="tl" transform="matrix(1 0 0 -1 0 2.4)">U</text></g><g transform="matrix(0.717 0.698 0.698 -0.717 258.4 772.5)"><use href="#tG"/><text class="tl" transform="matrix(1 0 0 -1 0 2.4)">G</text></g><g transform="matrix(0.715 0.699 0.699 -0.715 266.6 780.5)"><use href="#tC"/><text class="tl" transform="matrix(1 0 0 -1 0 2.4)">C</text></g><g transform="matrix(0.714 0.7 0.7 -0.714 274.8 788.6)"><use href="#tA"/><text class="tl" transform="matrix(1 0 0 -1 0 2.4)">A</text></g><g transform="matrix(0.714 0.7 0.7 -0.714 283.0 796.6)"><use href="#tA"/><text class="tl" transform="matrix(1 0 0 -1 0 2.4)">A</text></g><g transform="matrix(0.713 0.701 0.701 -0.713 291.2 804.7)"><use href="#tG"/><text class="tl" transform="matrix(1 0 0 -1 0 2.4)">G</text></g><g transform="matrix(0.712 0.702 0.702 -0.712 299.4 812.8)"><use href="#tC"/><text class="tl" transform="matrix(1 0 0 -1 0 2.4)">C</text></g><g transform="matrix(0.711 0.703 0.703 -0.711 307.6 820.8)"><use href="#tA"/><text class="tl" transform="matrix(1 0 0 -1 0 2.4)">A</text></g><g transform="matrix(0.71 0.704 0.704 -0.71 315.8 828.9)"><use href="#tG"/><text class="tl" transform="matrix(1 0 0 -1 0 2.4)">G</text></g><g transform="matrix(0.708 0.706 0.706 -0.708 324.0 837.1)"><use href="#tC"/><text class="tl" transform="matrix(1 0 0 -1 0 2.4)">C</text></g><g transform="matrix(0.706 0.708 0.708 -0.706 332.1 845.2)"><use href="#tC"/><text class="tl" transform="matrix(1 0 0 -1 0 2.4)">U</text></g><g transform="matrix(0.706 0.708 0.708 -0.706 340.3 853.3)"><use href="#tA"/><text class="tl" transform="matrix(1 0 0 -1 0 2.4)">A</text></g><g transform="matrix(0.706 0.708 0.708 -0.706 348.4 861.5)"><use href="#tC"/><text class="tl" transform="matrix(1 0 0 -1 0 2.4)">C</text></g><g transform="matrix(0.708 0.707 0.707 -0.708 356.5 869.6)"><use href="#tG"/><text class="tl" transform="matrix(1 0 0 -1 0 2.4)">G</text></g><g transform="matrix(0.711 0.703 0.703 -0.711 364.6 877.7)"><use href="#tC"/><text class="tl" transform="matrix(1 0 0 -1 0 2.4)">C</text></g><g transform="matrix(0.717 0.697 0.697 -0.717 372.8 885.7)"><use href="#tA"/><text class="tl" transform="matrix(1 0 0 -1 0 2.4)">A</text></g><g transform="matrix(0.724 0.69 0.69 -0.724 381.0 893.7)"><use href="#tC"/><text class="tl" transform="matrix(1 0 0 -1 0 2.4)">U</text></g><g transform="matrix(0.741 0.672 0.672 -0.741 389.3 901.4)"><use href="#tC"/><text class="tl" transform="matrix(1 0 0 -1 0 2.4)">U</text></g><g transform="matrix(0.765 0.644 0.644 -0.765 397.8 908.8)"><use href="#tG"/><text class="tl" transform="matrix(1 0 0 -1 0 2.4)">G</text></g><g transform="matrix(0.841 0.541 0.541 -0.841 406.4 915.4)"><use href="#tC"/><text class="tl" transform="matrix(1 0 0 -1 0 2.4)">U</text></g><g transform="matrix(0.923 0.384 0.384 -0.923 415.7 920.2)"><use href="#tC"/><text class="tl" transform="matrix(1 0 0 -1 0 2.4)">C</text></g><g transform="matrix(0.971 0.238 0.238 -0.971 425.7 923.5)"><use href="#tC"/><text class="tl" transform="matrix(1 0 0 -1 0 2.4)">C</text></g><g transform="matrix(0.998 0.058 0.058 -0.998 436.0 925.4)"><use href="#tA"/><text class="tl" transform="matrix(1 0 0 -1 0 2.4)">A</text></g><g transform="matrix(1 0.016 0.016 -1 447.2 925.7)"><use href="#tA"/><text class="tl" transform="matrix(1 0 0 -1 0 2.4)">A</text></g><g transform="matrix(1 0.005 0.005 -1 458.7 925.8)"><use href="#tG"/><text class="tl" transform="matrix(1 0 0 -1 0 2.4)">G</text></g><g transform="matrix(1 -0.001 -0.001 -1 470.1 925.8)"><use href="#tA"/><text class="tl" transform="matrix(1 0 0 -1 0 2.4)">A</text></g><g transform="matrix(1 -0.004 -0.004 -1 481.6 925.8)"><use href="#tA"/><text class="tl" transform="matrix(1 0 0 -1 0 2.4)">A</text></g><g transform="matrix(1 -0.004 -0.004 -1 493.1 925.8)"><use href="#tG"/><text class="tl" transform="matrix(1 0 0 -1 0 2.4)">G</text></g><g transform="matrix(1 -0.003 -0.003 -1 504.6 925.7)"><use href="#tC"/><text class="tl" transform="matrix(1 0 0 -1 0 2.4)">C</text></g><g transform="matrix(1 -0.001 -0.001 -1 516.1 925.7)"><use href="#tC"/><text class="tl" transform="matrix(1 0 0 -1 0 2.4)">U</text></g><g transform="matrix(1 0 0 -1 527.6 925.7)"><use href="#tG"/><text class="tl" transform="matrix(1 0 0 -1 0 2.4)">G</text></g><g transform="matrix(1 0 0 -1 539.1 925.7)"><use href="#tC"/><text class="tl" transform="matrix(1 0 0 -1 0 2.4)">U</text></g><g transform="matrix(1 0 0 -1 550.6 925.7)"><use href="#tG"/><text class="tl" transform="matrix(1 0 0 -1 0 2.4)">G</text></g><g transform="matrix(1 0 0 -1 562.1 925.7)"><use href="#tC"/><text class="tl" transform="matrix(1 0 0 -1 0 2.4)">C</text></g><g transform="matrix(1 0 0 -1 573.6 925.7)"><use href="#tA"/><text class="tl" transform="matrix(1 0 0 -1 0 2.4)">A</text></g><g transform="matrix(1 0 0 -1 585.1 925.7)"><use href="#tA"/><text class="tl" transform="matrix(1 0 0 -1 0 2.4)">A</text></g><g transform="matrix(1 0 0 -1 596.6 925.7)"><use href="#tG"/><text class="tl" transform="matrix(1 0 0 -1 0 2.4)">G</text></g>
<path d="M231 754C233.4 756.3 240.6 763.3 245.3 767.9C250.1 772.6 254.9 777.2 259.7 781.9C264.5 786.5 269.2 791.2 274 795.9C278.7 800.5 283.5 805.2 288.3 809.9C293 814.6 297.6 819.1 302.5 823.9C307.4 828.7 312.6 833.9 317.4 838.7C322.3 843.5 326.8 848.1 331.6 852.8C336.3 857.6 341 862.3 345.7 867C350.4 871.7 355.1 876.4 359.8 881.1C364.6 885.8 369.3 890.5 374.1 895.1C379 899.7 383.7 904.4 388.8 908.7C393.9 913 398.8 917.7 404.5 921C410.2 924.4 416.5 927 422.9 928.7C429.2 930.5 436 930.9 442.6 931.4C449.3 931.9 456 931.6 462.6 931.6C469.3 931.7 476 931.6 482.6 931.6C489.3 931.6 495.8 931.6 502.6 931.5C509.5 931.5 516.8 931.5 523.6 931.5C530.5 931.5 537 931.5 543.6 931.5C550.3 931.5 557 931.5 563.6 931.5C570.3 931.5 577.1 931.5 583.6 931.5C590.1 931.5 599.5 931.5 602.6 931.5" fill="none" stroke="#7d7f7c" stroke-width="13.4" stroke-linecap="round"/><path d="M231 754C233.4 756.3 240.6 763.3 245.3 767.9C250.1 772.6 254.9 777.2 259.7 781.9C264.5 786.5 269.2 791.2 274 795.9C278.7 800.5 283.5 805.2 288.3 809.9C293 814.6 297.6 819.1 302.5 823.9C307.4 828.7 312.6 833.9 317.4 838.7C322.3 843.5 326.8 848.1 331.6 852.8C336.3 857.6 341 862.3 345.7 867C350.4 871.7 355.1 876.4 359.8 881.1C364.6 885.8 369.3 890.5 374.1 895.1C379 899.7 383.7 904.4 388.8 908.7C393.9 913 398.8 917.7 404.5 921C410.2 924.4 416.5 927 422.9 928.7C429.2 930.5 436 930.9 442.6 931.4C449.3 931.9 456 931.6 462.6 931.6C469.3 931.7 476 931.6 482.6 931.6C489.3 931.6 495.8 931.6 502.6 931.5C509.5 931.5 516.8 931.5 523.6 931.5C530.5 931.5 537 931.5 543.6 931.5C550.3 931.5 557 931.5 563.6 931.5C570.3 931.5 577.1 931.5 583.6 931.5C590.1 931.5 599.5 931.5 602.6 931.5" fill="none" stroke="#fff" stroke-width="11.6" stroke-linecap="round"/>
</g>
<g transform="translate(294.5 611.5) rotate(-158.0)"><path d="M5.5 -3.8H17.5L14.6 0L17.5 3.8H5.5Z" fill="#5b5e54"/><rect x="9" y="-1.6" width="3.6" height="3.2" fill="#dfe1dc"/><rect x="-5.5" y="-7.2" width="11" height="14.4" fill="#fff" stroke="#6f716d" stroke-width="1"/></g>
<g transform="translate(333.5 614.2) rotate(-111.0)"><path d="M5.5 -3.8H17.5L14.6 0L17.5 3.8H5.5Z" fill="#5b5e54"/><rect x="9" y="-1.6" width="3.6" height="3.2" fill="#dfe1dc"/><rect x="-5.5" y="-7.2" width="11" height="14.4" fill="#fff" stroke="#6f716d" stroke-width="1"/></g>
<g transform="translate(273.6 643.2) rotate(-116.6)"><path d="M5.5 -3.8H13.5A3.8 3.8 0 0 1 13.5 3.8H5.5Z" fill="#5b5e54"/><rect x="9" y="-1.6" width="3.6" height="3.2" fill="#dfe1dc"/><rect x="-5.5" y="-7.2" width="11" height="14.4" fill="#fff" stroke="#6f716d" stroke-width="1"/></g>
<g transform="translate(319.6 634.8) rotate(124.4)"><path d="M5.5 -3.8H14L17.5 0L14 3.8H5.5Z" fill="#5b5e54"/><rect x="9" y="-1.6" width="3.6" height="3.2" fill="#dfe1dc"/><rect x="-5.5" y="-7.2" width="11" height="14.4" fill="#fff" stroke="#6f716d" stroke-width="1"/></g>
<g transform="translate(371.0 646.2) rotate(-18.4)"><path d="M5.5 -3.8H13.5A3.8 3.8 0 0 1 13.5 3.8H5.5Z" fill="#5b5e54"/><rect x="9" y="-1.6" width="3.6" height="3.2" fill="#dfe1dc"/><rect x="-5.5" y="-7.2" width="11" height="14.4" fill="#fff" stroke="#6f716d" stroke-width="1"/></g>
<g transform="translate(352.8 667.4) rotate(33.7)"><path d="M5.5 -3.8H17.5L14.6 0L17.5 3.8H5.5Z" fill="#5b5e54"/><rect x="9" y="-1.6" width="3.6" height="3.2" fill="#dfe1dc"/><rect x="-5.5" y="-7.2" width="11" height="14.4" fill="#fff" stroke="#6f716d" stroke-width="1"/></g>
<g transform="translate(325.6 674.1) rotate(72.5)"><path d="M5.5 -3.8H17.5L14.6 0L17.5 3.8H5.5Z" fill="#5b5e54"/><rect x="9" y="-1.6" width="3.6" height="3.2" fill="#dfe1dc"/><rect x="-5.5" y="-7.2" width="11" height="14.4" fill="#fff" stroke="#6f716d" stroke-width="1"/></g>
<g transform="translate(274.2 697.0) rotate(198.4)"><path d="M5.5 -3.8H14L17.5 0L14 3.8H5.5Z" fill="#5b5e54"/><rect x="9" y="-1.6" width="3.6" height="3.2" fill="#dfe1dc"/><rect x="-5.5" y="-7.2" width="11" height="14.4" fill="#fff" stroke="#6f716d" stroke-width="1"/></g>
<path d="M636 822C639 820.2 646.2 824.5 652 826.5C657.8 828.5 664.8 836.4 671 834C677.2 831.6 683.2 818.3 689.5 812C695.8 805.7 702.2 796 708.5 796C714.8 796 723.3 804.8 727.5 812C731.7 819.2 730.8 832.5 733.5 839C736.2 845.5 736.7 853.8 744 851C751.3 848.2 770.1 826.4 777.5 822.5C784.9 818.6 788.4 822.2 788.5 827.5C788.6 832.8 781.9 845.4 778 854C774.1 862.6 768.5 870.7 765 879C761.5 887.3 760.5 896.3 757 904C753.5 911.7 748.9 918.7 744 925C739.1 931.3 733.1 938.4 727.5 942C721.9 945.6 716.1 946.2 710.5 946.5C704.9 946.8 699.6 945.8 694 944C688.4 942.2 682.2 940 677 935.5C671.8 931 667.4 923.6 662.5 917C657.6 910.4 651.7 904.8 647.5 896C643.3 887.2 639.8 874.3 637.5 864.5C635.2 854.7 634.2 844.1 634 837C633.8 829.9 633 823.8 636 822Z" fill="#cbe0e6" stroke="#a3b3b8" stroke-width=".8"/>
<g fill="none" stroke="#e6f1f4" stroke-width="1.2"><path d="M678 858V896M664 870H690M668 897H688M668 897V905M678 897V905M688 897V905"/><ellipse cx="662" cy="870" rx="5" ry="3.5"/></g>
<path d="M884.5 823C885.7 818.8 889.6 821.5 893 822C896.4 822.5 900.7 824 905 826C909.3 828 916 836.2 919 834C922 831.8 919.5 818.7 923 813C926.5 807.3 935 802.7 940 800C945 797.3 948.3 796.7 953 797C957.7 797.3 961.8 797.8 968 802C974.2 806.2 986 813.5 990 822C994 830.5 989.3 849.7 992 853C994.7 856.3 1001.3 846 1006 842C1010.7 838 1016 832 1020 829C1024 826 1027.2 823.8 1030 824C1032.8 824.2 1036.5 826 1037 830C1037.5 834 1035.8 840.8 1033 848C1030.2 855.2 1023.9 865.3 1020 873C1016.1 880.7 1012.3 887.8 1009.5 894C1006.7 900.2 1004.4 904.8 1003 910C1001.6 915.2 1002.5 920.3 1001 925C999.5 929.7 997.3 934.6 994 938C990.7 941.4 986.2 944 981 945.5C975.8 947 968.6 947 963 947C957.4 947 952.7 947 947.5 945.5C942.3 944 938 943.2 932 938C926 932.8 917.9 924.4 911.5 914.5C905.1 904.6 897.8 889.7 893.5 878.5C889.2 867.3 887.5 856.8 886 847.5C884.5 838.2 883.3 827.2 884.5 823Z" fill="#cbe0e6" stroke="#a3b3b8" stroke-width=".8"/>
<g clip-path="url(#dclip2)">
<g transform="matrix(1 0 0 -1 634.0 924.8)"><use href="#tA"/><text class="tl" transform="matrix(1 0 0 -1 0 2.4)">A</text></g><g transform="matrix(1 0 0 -1 645.5 924.8)"><use href="#tC"/><text class="tl" transform="matrix(1 0 0 -1 0 2.4)">U</text></g><g transform="matrix(1 0 0 -1 657.0 924.8)"><use href="#tG"/><text class="tl" transform="matrix(1 0 0 -1 0 2.4)">G</text></g><g transform="matrix(1 0 0 -1 668.0 924.8)"><use href="#tA"/><text class="tl" transform="matrix(1 0 0 -1 0 2.4)">A</text></g><g transform="matrix(1 0 0 -1 679.5 924.8)"><use href="#tC"/><text class="tl" transform="matrix(1 0 0 -1 0 2.4)">C</text></g><g transform="matrix(1 0 0 -1 691.0 924.8)"><use href="#tG"/><text class="tl" transform="matrix(1 0 0 -1 0 2.4)">G</text></g><g transform="matrix(1 0 0 -1 702.5 924.8)"><use href="#tC"/><text class="tl" transform="matrix(1 0 0 -1 0 2.4)">U</text></g><g transform="matrix(1 0 0 -1 713.5 924.8)"><use href="#tC"/><text class="tl" transform="matrix(1 0 0 -1 0 2.4)">U</text></g><g transform="matrix(1 0 0 -1 725.0 924.8)"><use href="#tC"/><text class="tl" transform="matrix(1 0 0 -1 0 2.4)">U</text></g><g transform="matrix(1 0 0 -1 736.5 924.8)"><use href="#tC"/><text class="tl" transform="matrix(1 0 0 -1 0 2.4)">C</text></g><g transform="matrix(1 0 0 -1 748.0 924.8)"><use href="#tG"/><text class="tl" transform="matrix(1 0 0 -1 0 2.4)">G</text></g><g transform="matrix(1 0 0 -1 759.0 924.8)"><use href="#tA"/><text class="tl" transform="matrix(1 0 0 -1 0 2.4)">A</text></g><g transform="matrix(1 0 0 -1 770.5 924.8)"><use href="#tG"/><text class="tl" transform="matrix(1 0 0 -1 0 2.4)">G</text></g><g transform="matrix(1 0 0 -1 782.0 924.8)"><use href="#tC"/><text class="tl" transform="matrix(1 0 0 -1 0 2.4)">U</text></g><g transform="matrix(1 0 0 -1 793.5 924.8)"><use href="#tC"/><text class="tl" transform="matrix(1 0 0 -1 0 2.4)">C</text></g><g transform="matrix(1 0 0 -1 804.5 924.8)"><use href="#tA"/><text class="tl" transform="matrix(1 0 0 -1 0 2.4)">A</text></g><g transform="matrix(1 0 0 -1 816.0 924.8)"><use href="#tA"/><text class="tl" transform="matrix(1 0 0 -1 0 2.4)">A</text></g><g transform="matrix(1 0 0 -1 827.5 924.8)"><use href="#tG"/><text class="tl" transform="matrix(1 0 0 -1 0 2.4)">G</text></g><g transform="matrix(1 0 0 -1 838.5 924.8)"><use href="#tC"/><text class="tl" transform="matrix(1 0 0 -1 0 2.4)">U</text></g><g transform="matrix(1 0 0 -1 850.0 924.8)"><use href="#tA"/><text class="tl" transform="matrix(1 0 0 -1 0 2.4)">A</text></g><g transform="matrix(1 0 0 -1 861.5 924.8)"><use href="#tC"/><text class="tl" transform="matrix(1 0 0 -1 0 2.4)">U</text></g><g transform="matrix(1 0 0 -1 873.0 924.8)"><use href="#tG"/><text class="tl" transform="matrix(1 0 0 -1 0 2.4)">G</text></g><g transform="matrix(1 0 0 -1 884.0 924.8)"><use href="#tC"/><text class="tl" transform="matrix(1 0 0 -1 0 2.4)">C</text></g><g transform="matrix(1 0 0 -1 895.5 924.8)"><use href="#tA"/><text class="tl" transform="matrix(1 0 0 -1 0 2.4)">A</text></g><g transform="matrix(1 0 0 -1 907.0 924.8)"><use href="#tA"/><text class="tl" transform="matrix(1 0 0 -1 0 2.4)">A</text></g><g transform="matrix(1 0 0 -1 918.5 924.8)"><use href="#tG"/><text class="tl" transform="matrix(1 0 0 -1 0 2.4)">G</text></g><g transform="matrix(1 0 0 -1 929.5 924.8)"><use href="#tC"/><text class="tl" transform="matrix(1 0 0 -1 0 2.4)">C</text></g><g transform="matrix(1 0 0 -1 941.0 924.8)"><use href="#tA"/><text class="tl" transform="matrix(1 0 0 -1 0 2.4)">A</text></g><g transform="matrix(1 0 0 -1 952.5 924.8)"><use href="#tA"/><text class="tl" transform="matrix(1 0 0 -1 0 2.4)">A</text></g><g transform="matrix(1 0 0 -1 964.0 924.8)"><use href="#tC"/><text class="tl" transform="matrix(1 0 0 -1 0 2.4)">C</text></g><g transform="matrix(1 0 0 -1 975.0 924.8)"><use href="#tG"/><text class="tl" transform="matrix(1 0 0 -1 0 2.4)">G</text></g><g transform="matrix(1 0 0 -1 986.5 924.8)"><use href="#tC"/><text class="tl" transform="matrix(1 0 0 -1 0 2.4)">U</text></g><g transform="matrix(1 0 0 -1 998.0 924.8)"><use href="#tG"/><text class="tl" transform="matrix(1 0 0 -1 0 2.4)">G</text></g><g transform="matrix(1 0 0 -1 1009.5 924.8)"><use href="#tC"/><text class="tl" transform="matrix(1 0 0 -1 0 2.4)">C</text></g><g transform="matrix(1 0 0 -1 1020.5 924.8)"><use href="#tA"/><text class="tl" transform="matrix(1 0 0 -1 0 2.4)">A</text></g><g transform="matrix(1 0 0 -1 1032.0 924.8)"><use href="#tG"/><text class="tl" transform="matrix(1 0 0 -1 0 2.4)">G</text></g><g transform="matrix(1 0 0 -1 1043.5 924.8)"><use href="#tC"/><text class="tl" transform="matrix(1 0 0 -1 0 2.4)">C</text></g><g transform="matrix(1 0 0 -1 1055.0 924.8)"><use href="#tC"/><text class="tl" transform="matrix(1 0 0 -1 0 2.4)">U</text></g><g transform="matrix(1 0 0 -1 1066.0 924.8)"><use href="#tG"/><text class="tl" transform="matrix(1 0 0 -1 0 2.4)">G</text></g><g transform="matrix(1 0 0 -1 1077.5 924.8)"><use href="#tC"/><text class="tl" transform="matrix(1 0 0 -1 0 2.4)">U</text></g><g transform="matrix(1 0 0 -1 1089.0 924.8)"><use href="#tG"/><text class="tl" transform="matrix(1 0 0 -1 0 2.4)">G</text></g><g transform="matrix(1 0 0 -1 1100.5 924.8)"><use href="#tC"/><text class="tl" transform="matrix(1 0 0 -1 0 2.4)">C</text></g><g transform="matrix(1 0 0 -1 1111.5 924.8)"><use href="#tA"/><text class="tl" transform="matrix(1 0 0 -1 0 2.4)">A</text></g><g transform="matrix(1 0 0 -1 1123.0 924.8)"><use href="#tA"/><text class="tl" transform="matrix(1 0 0 -1 0 2.4)">A</text></g><g transform="matrix(1 0 0 -1 1134.5 924.8)"><use href="#tG"/><text class="tl" transform="matrix(1 0 0 -1 0 2.4)">G</text></g><g transform="matrix(1 0 0 -1 1145.5 924.8)"><use href="#tC"/><text class="tl" transform="matrix(1 0 0 -1 0 2.4)">C</text></g><g transform="matrix(1 0 0 -1 1157.0 924.8)"><use href="#tA"/><text class="tl" transform="matrix(1 0 0 -1 0 2.4)">A</text></g><g transform="matrix(1 0 0 -1 1168.5 924.8)"><use href="#tC"/><text class="tl" transform="matrix(1 0 0 -1 0 2.4)">U</text></g>
<path d="M623.5 930.2 L1180.0 930.2" fill="none" stroke="#7d7f7c" stroke-width="12.4" stroke-linecap="round"/><path d="M623.5 930.2 L1180.0 930.2" fill="none" stroke="#fff" stroke-width="10.6" stroke-linecap="round"/>
</g>
<path d="M896.1 786L914 810.2" stroke="#6f716d" stroke-width="1"/><circle cx="914" cy="810.2" r="13.5" fill="#f1f4f6" stroke="#6f716d" stroke-width="1.3"/><text class="aa" x="911" y="813.3">Thr</text>
<path d="M923 812.5C926 807.2 931.7 804.4 937.5 802.5C943.3 800.6 951.2 800 958 801C964.8 802 972.9 805.1 978.5 808.5C984.1 811.9 988.9 816.8 991.5 821.5C994.1 826.2 994.8 831.4 994 837C993.2 842.6 988.6 849 986.5 855C984.4 861 981.1 866.5 981.5 873C981.9 879.5 986.2 887.9 989 894C991.8 900.1 996.1 904.3 998 909.5C999.9 914.7 1001.2 920.3 1000.5 925C999.8 929.7 997.2 934.1 994 937.5C990.8 940.9 986.7 944 981.5 945.5C976.3 947 968.7 947.2 963 946.8C957.3 946.4 952.6 945.4 947.5 943C942.4 940.6 937.6 937.2 932.5 932.5C927.4 927.8 921.8 921.3 917 914.5C912.2 907.7 907.2 899.2 904 891.5C900.8 883.8 897.9 875.3 897.5 868C897.1 860.7 897.8 853.1 901.5 847.5C905.2 841.9 915.9 840.3 919.5 834.5C923.1 828.7 920 817.8 923 812.5Z" fill="#fff" stroke="#8a8c8a" stroke-width="1"/>
<path d="M923 812C920 825 926 838 924 850C923 856 921 860 919 862" fill="none" stroke="#8a8c8a" stroke-width=".9"/>
<g fill="#64685f"><rect x="712.6" y="849.7" width="4.4" height="39.3"/><rect x="695.8" y="864.5" width="38" height="3.8"/><circle cx="695.8" cy="866.4" r="5.4"/><circle cx="733.8" cy="866.4" r="5.4"/><rect x="716.8" y="869.8" width="6" height="3.4" rx="1.6"/><circle cx="714.0" cy="889.0" r="5.8"/><path d="M697.6 898.6h9.4v8.6l-4.7 3.4l-4.7 -3.4Z"/><text class="tl" x="702.3" y="906.0">A</text><path d="M709.0 898.6h9.4v8.6l-4.7 3.4l-4.7 -3.4Z"/><text class="tl" x="713.7" y="906.0">A</text><path d="M720.3 898.6h9.4v8.6l-4.7 3.4l-4.7 -3.4Z"/><text class="tl" x="725.0" y="906.0">A</text></g>
<g fill="#64685f"><rect x="712.6" y="542.1" width="4.4" height="39.9"/><rect x="716.0" y="536.3" width="1.1" height="6"/><rect x="696.8" y="557.0" width="36" height="3.6"/><circle cx="696.8" cy="558.8" r="5.2"/><circle cx="732.8" cy="558.8" r="5.2"/><rect x="716.8" y="562.2" width="6" height="3.4" rx="1.6"/><circle cx="713.0" cy="582.0" r="5.5"/><path d="M701.7 591.5V588.6H724.3V591.5" fill="none" stroke="#64685f" stroke-width=".9"/><path d="M697.4 591.2h8.6v11.8l-4.3 -3.4l-4.3 3.4Z"/><text class="tl" x="701.7" y="598.0">G</text><path d="M708.7 591.2h8.6v11.8l-4.3 -3.4l-4.3 3.4Z"/><text class="tl" x="713.0" y="598.0">C</text><path d="M720.0 591.2h8.6v11.8l-4.3 -3.4l-4.3 3.4Z"/><text class="tl" x="724.3" y="598.0">U</text></g>
<g fill="#64685f"><rect x="576.4" y="698.5" width="4.4" height="39.9"/><rect x="579.8" y="692.7" width="1.1" height="6"/><rect x="560.6" y="713.4" width="36" height="3.6"/><circle cx="560.6" cy="715.2" r="5.2"/><circle cx="596.6" cy="715.2" r="5.2"/><rect x="580.6" y="718.6" width="6" height="3.4" rx="1.6"/><circle cx="576.8" cy="738.4" r="5.5"/><path d="M565.5 747.9V745.0H588.1V747.9" fill="none" stroke="#64685f" stroke-width=".9"/><path d="M561.2 747.6h8.6v11.8l-4.3 -3.4l-4.3 3.4Z"/><text class="tl" x="565.5" y="754.4">U</text><path d="M572.5 747.6h8.6v11.8l-4.3 -3.4l-4.3 3.4Z"/><text class="tl" x="576.8" y="754.4">G</text><path d="M583.8 747.6h8.6v11.8l-4.3 -3.4l-4.3 3.4Z"/><text class="tl" x="588.1" y="754.4">C</text></g>
<g fill="#64685f"><rect x="932.1" y="581.8" width="4.4" height="39.9"/><rect x="935.5" y="576.0" width="1.1" height="6"/><rect x="916.3" y="596.7" width="36" height="3.6"/><circle cx="916.3" cy="598.5" r="5.2"/><circle cx="952.3" cy="598.5" r="5.2"/><rect x="936.3" y="601.9" width="6" height="3.4" rx="1.6"/><circle cx="932.5" cy="621.7" r="5.5"/><path d="M921.2 631.2V628.3H943.8V631.2" fill="none" stroke="#64685f" stroke-width=".9"/><path d="M916.9 630.9h8.6v11.8l-4.3 -3.4l-4.3 3.4Z"/><text class="tl" x="921.2" y="637.7">U</text><path d="M928.2 630.9h8.6v11.8l-4.3 -3.4l-4.3 3.4Z"/><text class="tl" x="932.5" y="637.7">U</text><path d="M939.5 630.9h8.6v11.8l-4.3 -3.4l-4.3 3.4Z"/><text class="tl" x="943.8" y="637.7">C</text></g>
<g fill="#64685f"><rect x="1067.0" y="666.1" width="4.4" height="39.9"/><rect x="1070.4" y="660.3" width="1.1" height="6"/><rect x="1051.2" y="681.0" width="36" height="3.6"/><circle cx="1051.2" cy="682.8" r="5.2"/><circle cx="1087.2" cy="682.8" r="5.2"/><rect x="1071.2" y="686.2" width="6" height="3.4" rx="1.6"/><circle cx="1067.4" cy="706.0" r="5.5"/><path d="M1056.1 715.5V712.6H1078.7V715.5" fill="none" stroke="#64685f" stroke-width=".9"/><path d="M1051.8 715.2h8.6v11.8l-4.3 -3.4l-4.3 3.4Z"/><text class="tl" x="1056.1" y="722.0">A</text><path d="M1063.1 715.2h8.6v11.8l-4.3 -3.4l-4.3 3.4Z"/><text class="tl" x="1067.4" y="722.0">A</text><path d="M1074.4 715.2h8.6v11.8l-4.3 -3.4l-4.3 3.4Z"/><text class="tl" x="1078.7" y="722.0">A</text></g>
<g fill="#64685f"><rect x="811.6" y="821.1" width="4.4" height="39.9"/><rect x="815.0" y="815.3" width="1.1" height="6"/><rect x="795.8" y="836.0" width="36" height="3.6"/><circle cx="795.8" cy="837.8" r="5.2"/><circle cx="831.8" cy="837.8" r="5.2"/><rect x="815.8" y="841.2" width="6" height="3.4" rx="1.6"/><circle cx="812.0" cy="861.0" r="5.5"/><path d="M800.7 870.5V867.6H823.3V870.5" fill="none" stroke="#64685f" stroke-width=".9"/><path d="M796.4 870.2h8.6v11.8l-4.3 -3.4l-4.3 3.4Z"/><text class="tl" x="800.7" y="877.0">G</text><path d="M807.7 870.2h8.6v11.8l-4.3 -3.4l-4.3 3.4Z"/><text class="tl" x="812.0" y="877.0">C</text><path d="M819.0 870.2h8.6v11.8l-4.3 -3.4l-4.3 3.4Z"/><text class="tl" x="823.3" y="877.0">U</text></g>
<ellipse cx="1067.4" cy="721.5" rx="24" ry="13.5" fill="none" stroke="#6c8a98" stroke-width="1.1"/>
<path d="M800.3 619.4 L826.1 636.8 L853.5 650.2 L878.4 667.4 L892.9 695.6 L892.9 726.3 L892.1 755.6 L896.1 786.0" fill="none" stroke="#6f716d" stroke-width="1"/>
<circle cx="800.3" cy="619.4" r="13.5" fill="#f1f4f6" stroke="#6f716d" stroke-width="1.3"/><text class="aa" x="800.3" y="622.5">Met</text>
<circle cx="826.1" cy="636.8" r="13.5" fill="#f1f4f6" stroke="#6f716d" stroke-width="1.3"/><text class="aa" x="826.1" y="639.9">Thr</text>
<circle cx="853.5" cy="650.2" r="13.5" fill="#f1f4f6" stroke="#6f716d" stroke-width="1.3"/><text class="aa" x="853.5" y="653.3">Phe</text>
<circle cx="878.4" cy="667.4" r="13.5" fill="#f1f4f6" stroke="#6f716d" stroke-width="1.3"/><text class="aa" x="878.4" y="670.5">Arg</text>
<circle cx="892.9" cy="695.6" r="13.5" fill="#f1f4f6" stroke="#6f716d" stroke-width="1.3"/><text class="aa" x="892.9" y="698.7">Val</text>
<circle cx="892.9" cy="726.3" r="13.5" fill="#f1f4f6" stroke="#6f716d" stroke-width="1.3"/><text class="aa" x="892.9" y="729.4">Lys</text>
<circle cx="892.1" cy="755.6" r="13.5" fill="#f1f4f6" stroke="#6f716d" stroke-width="1.3"/><text class="aa" x="892.1" y="758.7">Tyr</text>
<circle cx="896.1" cy="786.0" r="13.5" fill="#f1f4f6" stroke="#6f716d" stroke-width="1.3"/><text class="aa" x="896.1" y="789.1">Ala</text>
<circle cx="1006.1" cy="473.2" r="13.5" fill="#f1f4f6" stroke="#6f716d" stroke-width="1.3"/><text class="aa" x="1006.1" y="476.3">Thr</text>
<circle cx="939.4" cy="495.8" r="13.5" fill="#f1f4f6" stroke="#6f716d" stroke-width="1.3"/><text class="aa" x="939.4" y="498.9">Phe</text>
<circle cx="972.3" cy="498.0" r="13.5" fill="#f1f4f6" stroke="#6f716d" stroke-width="1.3"/><text class="aa" x="972.3" y="501.1">Tyr</text>
<circle cx="1032.9" cy="497.4" r="13.5" fill="#f1f4f6" stroke="#6f716d" stroke-width="1.3"/><text class="aa" x="1032.9" y="500.5">Cys</text>
<circle cx="978.0" cy="531.0" r="13.5" fill="#f1f4f6" stroke="#6f716d" stroke-width="1.3"/><text class="aa" x="978.0" y="534.1">Arg</text>
<circle cx="1014.8" cy="525.5" r="13.5" fill="#f1f4f6" stroke="#6f716d" stroke-width="1.3"/><text class="aa" x="1014.8" y="528.6">Val</text>
<circle cx="1055.5" cy="532.0" r="13.5" fill="#f1f4f6" stroke="#6f716d" stroke-width="1.3"/><text class="aa" x="1055.5" y="535.1">Asn</text>
<circle cx="878.0" cy="543.2" r="13.5" fill="#f1f4f6" stroke="#6f716d" stroke-width="1.3"/><text class="aa" x="878.0" y="546.3">Lys</text>
<circle cx="1070.6" cy="646.5" r="13.5" fill="#f1f4f6" stroke="#6f716d" stroke-width="1.3"/><text class="aa" x="1070.6" y="649.6">Phe</text>
<circle cx="816.3" cy="800.8" r="13.5" fill="#f1f4f6" stroke="#6f716d" stroke-width="1.3"/><text class="aa" x="816.3" y="803.9">Arg</text>
<path d="M666.6 802.5L684 829.7H714.2V850" fill="none" stroke="#6f716d" stroke-width="1"/>
<circle cx="666.6" cy="802.5" r="13.5" fill="#f1f4f6" stroke="#6f716d" stroke-width="1.3"/><text class="aa" x="666.6" y="805.6">Met</text>
<circle cx="684.0" cy="829.7" r="13.5" fill="#f1f4f6" stroke="#6f716d" stroke-width="1.3"/><text class="aa" x="684.0" y="832.8">Thr</text>
<circle cx="714.2" cy="829.7" r="13.5" fill="#f1f4f6" stroke="#6f716d" stroke-width="1.3"/><text class="aa" x="714.2" y="832.8">Phe</text>
<path d="M1070 660V668M816 814.5V822" stroke="#64685f" stroke-width="1.2"/>
<text class="st" x="141" y="484.3">Transcripción en el núcleo</text>
<text class="st" x="585" y="484.5">Traducción en el citoplasma</text>
<text class="big" x="306.5" y="931.6">ARNm</text>
<text class="big" x="139.5" y="1011.2">ADN</text>
<text class="pr" x="176.5" y="527.8">5’</text>
<text class="pr" x="232.5" y="527.8">3’</text>
<text class="pr" x="213.5" y="760.5">3’</text>
<text class="pr" x="593.5" y="951.5">5’</text>
<text class="pr" x="622.0" y="951.5">5’</text>
<text class="pr" x="1152.5" y="951.5">3’</text>
<text class="lb"><tspan x="263.3" y="562.7">Nucleótidos libres</tspan><tspan x="263.3" y="576.6">se añaden al ARNm</tspan></text>
<text class="lb"><tspan x="103.3" y="614.5">El ADN se</tspan><tspan x="103.3" y="628.7">desenrrolla</tspan></text>
<text class="lb"><tspan x="299.8" y="727.0">Enzima</tspan><tspan x="299.8" y="742.2">ARN polimerasa</tspan></text>
<text class="lb" text-anchor="middle"><tspan x="212.5" y="834.3">El ADN se</tspan><tspan x="212.5" y="848.5">vuelve a enrrollar</tspan></text>
<text class="lb"><tspan x="530.3" y="562.0">Cada ARNt tiene un</tspan><tspan x="530.3" y="576.5">anticodón específico</tspan><tspan x="530.3" y="591.1">compuesto por una</tspan><tspan x="530.3" y="605.6">secuencia de tres</tspan><tspan x="530.3" y="620.2">bases complementaria</tspan><tspan x="530.3" y="634.8">a un codón del ARNm</tspan></text>
<text class="lb"><tspan x="769.0" y="544.0">Activación del</tspan><tspan x="769.0" y="558.5">ARNt con el</tspan><tspan x="769.0" y="573.1">aminoácido lisina</tspan></text>
<text class="lb"><tspan x="713.2" y="710.3">La molécula de</tspan><tspan x="713.2" y="724.9">ARNt lleva el</tspan><tspan x="713.2" y="739.6">aminoácido correcto</tspan><tspan x="713.2" y="754.2">hasta el ribosoma</tspan></text>
<text class="lb"><tspan x="1060.0" y="485.2">Aminoácidos</tspan><tspan x="1060.0" y="500.0">libres</tspan></text>
<text class="lb"><tspan x="1053.9" y="765.8">ARNt activo con</tspan><tspan x="1053.9" y="780.6">el aminoácido</tspan><tspan x="1053.9" y="795.5">fenilalanina</tspan></text>
<text class="lb"><tspan x="509.0" y="785.2">Tras descargar</tspan><tspan x="509.0" y="799.6">su aminoácido, el</tspan><tspan x="509.0" y="814.0">ARNt abandona</tspan><tspan x="509.0" y="828.4">el ribosoma</tspan></text>
<text class="lb"><tspan x="474.5" y="1000.0">El ARNm sale al</tspan><tspan x="474.5" y="1014.4">citoplasma a través</tspan><tspan x="474.5" y="1028.8">de un poro nuclear</tspan></text>
<text class="lb"><tspan x="663.2" y="980.0">El anticodón del ARNt se empareja con</tspan><tspan x="663.2" y="994.5">el codón correcto del ARNm y libera el</tspan><tspan x="663.2" y="1009.1">aminoácido. El ribosoma (no se muestra</tspan><tspan x="663.2" y="1023.6">la subunidad menor) cataliza los enlaces</tspan><tspan x="663.2" y="1038.2">peptídicos entre aminoácidos adyacentes</tspan></text>
<text class="lb"><tspan x="947.0" y="980.0">Las subunidades mayor</tspan><tspan x="947.0" y="994.6">y menor del ribosoma se</tspan><tspan x="947.0" y="1009.2">anclan al ARNm para catalizar</tspan><tspan x="947.0" y="1023.8">la síntesis de proteínas.</tspan><tspan x="947.0" y="1038.4">Muchos ribosomas pueden</tspan><tspan x="947.0" y="1053.0">trabajar sobre un mismo</tspan><tspan x="947.0" y="1067.6">ARNm al mismo tiempo</tspan></text>
<path d="M361.5 581.5L371 646.3" fill="none" stroke="#6c8a98" stroke-width="1.3"/><circle cx="371.0" cy="646.3" r="2.6" fill="#6c8a98"/>
<path d="M166.5 635.5C168 660 182 678 207.4 681.9" fill="none" stroke="#6c8a98" stroke-width="1.3"/><circle cx="207.4" cy="681.9" r="2.6" fill="#6c8a98"/>
<path d="M297 721.9H270.7" fill="none" stroke="#6c8a98" stroke-width="1.3"/><circle cx="270.7" cy="721.9" r="2.6" fill="#6c8a98"/>
<path d="M333.7 912.8L360.5 885.7" fill="none" stroke="#6c8a98" stroke-width="1.3"/><circle cx="360.5" cy="885.7" r="2.6" fill="#6c8a98"/>
<path d="M471.6 985L435 947" fill="none" stroke="#6c8a98" stroke-width="1.3"/><circle cx="435.0" cy="947.0" r="2.6" fill="#6c8a98"/>
<path d="M664.8 571.6L713 584" fill="none" stroke="#6c8a98" stroke-width="1.3"/><circle cx="713.0" cy="584.0" r="2.6" fill="#6c8a98"/>
<path d="M816.4 761V793.5" fill="none" stroke="#6c8a98" stroke-width="1.3"/><circle cx="816.4" cy="793.5" r="2.6" fill="#6c8a98"/>
<path d="M930.5 735.2H897.4" fill="none" stroke="#6c8a98" stroke-width="1.3"/><circle cx="897.4" cy="735.2" r="2.6" fill="#6c8a98"/>
<path d="M711.3 962.9V930.4" fill="none" stroke="#6c8a98" stroke-width="1.3"/><circle cx="711.3" cy="930.4" r="2.6" fill="#6c8a98"/>
<path d="M978.2 963.5V931.3" fill="none" stroke="#6c8a98" stroke-width="1.3"/><circle cx="978.2" cy="931.3" r="2.6" fill="#6c8a98"/>
<path d="M1069 735V748" fill="none" stroke="#6c8a98" stroke-width="1.3"/>
<path d="M317.5 673.4C290 669 262 671 243 682C222 694 210 712 213 738" fill="none" stroke="#6c8a98" stroke-width="1.4"/>
<path d="M209.5 734.5L216.8 747.5L221.5 733.5L215.5 737Z" fill="#5d7f93"/>
<path d="M177.9 872.1C184 864 195 859.5 205 858.8M249.7 872.1C243 864 232 859.5 222 858.8" fill="none" stroke="#6c8a98" stroke-width="1.3"/>
<path d="M203 855L210.5 858.7L203 862.6L204.6 858.7ZM224.5 855L217 858.7L224.5 862.6L222.9 858.7Z" fill="#5d7f93"/>
<path d="M891.6 540.6C912 535 934 540 936 560" fill="none" stroke="#6c8a98" stroke-width="1.3"/>
<path d="M930.6 558.5L936.2 573.5L941.8 558.5L936.2 561.5Z" fill="#5d7f93"/>
<path d="M478.6 946.6H576.0" stroke="#5d7f93" stroke-width="1.6"/><path d="M571.0 941.6L584.0 946.6L571.0 951.6L574.0 946.6Z" fill="#5d7f93"/>
<path d="M752.6 946.8H914.0" stroke="#5d7f93" stroke-width="1.6"/><path d="M909.0 941.8L922.0 946.8L909.0 951.8L912.0 946.8Z" fill="#5d7f93"/>
<path d="M1009.7 946.8H1106.0" stroke="#5d7f93" stroke-width="1.6"/><path d="M1101.0 941.8L1114.0 946.8L1101.0 951.8L1104.0 946.8Z" fill="#5d7f93"/>
<path d="M801.8 850.7C775 852 752 868 746.5 893" fill="none" stroke="#5d7f93" stroke-width="1.4" stroke-dasharray="1.6 2.4"/>
<path d="M740.6 889L746.4 903.5L752 889L746.4 892.5Z" fill="#5d7f93"/>
<path d="M665.5 851.8C648 838 642 815 641.4 791C641 768 637 748 622 736C614 731.5 606 730.5 599 730.3" fill="none" stroke="#5d7f93" stroke-width="1.4" stroke-dasharray="1.6 2.4"/>
<path d="M601.5 724.5L587.5 730.3L601.5 736.2L598.5 730.3Z" fill="#5d7f93"/>
<rect x="132.5" y="1069" width="231" height="74" fill="#ededf3" stroke="#4b5591" stroke-width="1.3"/>
<rect x="512.8" y="1069" width="366.5" height="76.5" fill="#ededf3" stroke="#4b5591" stroke-width="1.3"/>
<text class="lb"><tspan x="139" y="1090">En la <tspan class="bb">transcripción</tspan> (síntesis de</tspan><tspan x="139" y="1104.5">ARNm) la enzima ARN polimerasa</tspan><tspan x="139" y="1119">añade nucleótidos libres a la</tspan><tspan x="139" y="1133.6">cadena creciente de ARNm</tspan></text>
<text class="lb"><tspan x="519.7" y="1090.3">En la <tspan class="bb">traducción</tspan> (síntesis de proteínas) los ribosomas se</tspan><tspan x="519.7" y="1104.7">ensamblan en la cadena de ARNm y catalizan la síntesis</tspan><tspan x="519.7" y="1119.1">de una cadena polipeptídica a partir de aminoácidos</tspan><tspan x="519.7" y="1133.5">transportandos específicamente por ARNt</tspan></text>
</svg></div>

<div id="qs" class="abs">
<svg id="qbg" class="abs" width="1090" height="296" viewBox="0 0 1090 296">
<defs><pattern id="tile" width="271" height="300" patternUnits="userSpaceOnUse" x="-17" y="0">
<g fill="none" stroke="#dbdbe9" stroke-width="1.4" stroke-linecap="round" stroke-linejoin="round">
<g transform="translate(0 0)"><path d="M2 100L12 92L23 98L25 122L14 131L3 124ZM10 131L5 164M16 131L11 165M8 160L-8 150L-20 186M11 163L24 152L34 190M5 140l6 1M4 147l6 1M3 154l6 1" /><path d="M9 102q5 -3 8 1t2 8q-3 3 -2 7t-6 3q-4 -2 -4 -7t-1 -6q0 -4 3 -6" fill="#eeeef5"/></g>
<g transform="translate(271 0)"><path d="M2 100L12 92L23 98L25 122L14 131L3 124ZM10 131L5 164M16 131L11 165M8 160L-8 150L-20 186M11 163L24 152L34 190M5 140l6 1M4 147l6 1M3 154l6 1" /><path d="M9 102q5 -3 8 1t2 8q-3 3 -2 7t-6 3q-4 -2 -4 -7t-1 -6q0 -4 3 -6" fill="#eeeef5"/></g>
<path d="M43 46C34 40 26 38 14 30M14 30l-6 -6M14 30l-8 3M43 46C32 50 24 56 16 66M16 66l-6 1M16 66l-1 7M43 46C40 58 36 70 30 82M30 82l-5 3M30 82l2 6M43 46C50 58 58 66 68 72M68 72l6 0M68 72l1 6M43 46C56 46 66 50 78 52M78 52l5 -3M78 52l4 4M43 46C52 36 58 26 62 14M62 14l-3 -6M62 14l5 -4M43 46C40 34 36 24 34 12M34 12l-4 -5M34 12l4 -5"/><ellipse cx="43" cy="46" rx="4.5" ry="3.5"/>
<path d="M82 29C100 22 118 14 136 6M83 31C101 25 119 17 137 9M136 6q5 -1 4 3q-1 2 -3 0"/>
<path d="M103.0 84.0L107.2 83.6L111.2 83.1L115.0 82.4L118.5 81.2L121.5 79.7L124.1 77.6L126.2 75.1L127.9 72.1L129.1 68.6L130.0 64.8L130.6 60.8L131.2 56.6L131.8 52.5L132.5 48.5L133.4 44.7L134.8 41.4L136.5 38.5L138.7 36.0L141.4 34.1L144.6 32.7L148.1 31.7L152.0 31.0L156.1 30.5L160.3 30.2L164.5 29.8L168.5 29.2L172.2 28.4L175.5 27.2L178.5 25.5L180.9 23.3L182.9 20.6L184.4 17.5L185.6 13.9L186.4 10.1L187.0 6.0L187.6 1.8L188.2 -2.3L188.9 -6.2M103.0 84.0L103.6 79.8L104.2 75.8L105.2 72.1L106.5 68.6L108.1 65.7L110.3 63.2L112.9 61.2L116.0 59.7L119.6 58.6L123.4 57.9L127.5 57.4L131.6 57.1L135.8 56.7L139.8 56.2L143.6 55.4L147.0 54.2L150.0 52.6L152.5 50.5L154.6 47.9L156.2 44.8L157.3 41.3L158.2 37.4L158.8 33.4L159.4 29.2L160.0 25.1L160.7 21.1L161.7 17.4L163.1 14.1L164.9 11.3L167.2 8.9L169.9 7.0L173.1 5.7L176.7 4.7L180.6 4.0L184.8 3.6L188.9 3.2L193.1 2.8L197.1 2.2M111.2 83.1L104.2 75.8M121.5 79.7L108.1 65.7M127.9 72.1L116.0 59.7M132.5 48.5L139.8 56.2M136.5 38.5L150.0 52.6M144.6 32.7L156.2 44.8M168.5 29.2L160.7 21.1M178.5 25.5L164.9 11.3M184.4 17.5L173.1 5.7"/>
<path d="M107.0 88.0L111.2 87.6L115.2 87.1L119.0 86.4L122.5 85.2L125.5 83.7L128.1 81.6L130.2 79.1L131.9 76.1L133.1 72.6L134.0 68.8L134.6 64.8L135.2 60.6L135.8 56.5L136.5 52.5L137.4 48.7L138.8 45.4L140.5 42.5L142.7 40.0L145.4 38.1L148.6 36.7L152.1 35.7L156.0 35.0L160.1 34.5L164.3 34.2L168.5 33.8L172.5 33.2L176.2 32.4L179.5 31.2L182.5 29.5L184.9 27.3L186.9 24.6L188.4 21.5L189.6 17.9L190.4 14.1L191.0 10.0L191.6 5.8L192.2 1.7L192.9 -2.2M107.0 88.0L107.6 83.8L108.2 79.8L109.2 76.1L110.5 72.6L112.1 69.7L114.3 67.2L116.9 65.2L120.0 63.7L123.6 62.6L127.4 61.9L131.5 61.4L135.6 61.1L139.8 60.7L143.8 60.2L147.6 59.4L151.0 58.2L154.0 56.6L156.5 54.5L158.6 51.9L160.2 48.8L161.3 45.3L162.2 41.4L162.8 37.4L163.4 33.2L164.0 29.1L164.7 25.1L165.7 21.4L167.1 18.1L168.9 15.3L171.2 12.9L173.9 11.0L177.1 9.7L180.7 8.7L184.6 8.0L188.8 7.6L192.9 7.2L197.1 6.8L201.1 6.2M115.2 87.1L108.2 79.8M125.5 83.7L112.1 69.7M131.9 76.1L120.0 63.7M136.5 52.5L143.8 60.2M140.5 42.5L154.0 56.6M148.6 36.7L160.2 48.8M172.5 33.2L164.7 25.1M182.5 29.5L168.9 15.3M188.4 21.5L177.1 9.7"/>
<rect x="169.0" y="29.0" width="26.0" height="10.0" rx="5.0" transform="rotate(15.0 182.0 34.0)"/><circle cx="114.0" cy="36.0" r="5.0"/><circle cx="173.0" cy="50.0" r="6.0"/><circle cx="260.0" cy="36.0" r="6.0"/><circle cx="50.0" cy="187.0" r="5.0"/><circle cx="127.0" cy="182.0" r="5.5"/>
<path d="M217 21L219 40M224 44L236 48M224 47L236 51M204 60L215 49M198 68V80M201 68V80M206 88L225 94M237 92L245 80M244 70L241 56M251 77L264 82"/>
<path d="M148 76L158 70L190 108L181 116ZM162 86L170 80M168 94L177 87" fill="#eeeef5"/><path d="M160 112C158 126 170 140 190 140M176 118L196 108L204 118L186 130ZM180 146C196 150 220 146 232 134L236 142C224 156 196 160 178 154Z"/><circle cx="162.0" cy="108.0" r="5.0"/>
<ellipse cx="128" cy="105" rx="11" ry="7.5" transform="rotate(30 128 105)"/><ellipse cx="128" cy="105" rx="6" ry="3.5" transform="rotate(30 128 105)"/>
<rect x="45.0" y="134.5" width="30.0" height="11.0" rx="5.5" transform="rotate(-50.0 60.0 140.0)"/><rect x="61.0" y="120.5" width="30.0" height="11.0" rx="5.5" transform="rotate(-75.0 76.0 126.0)"/><rect x="76.0" y="110.5" width="28.0" height="11.0" rx="5.5" transform="rotate(-25.0 90.0 116.0)"/><rect x="49.0" y="113.0" width="26.0" height="10.0" rx="5.0" transform="rotate(20.0 62.0 118.0)"/>
<path d="M88 144Q84 150 88 158L150 160Q162 158 162 151Q162 144 150 143ZM86 160q-3 6 0 9q3 -3 0 -9"/><circle cx="100.0" cy="152.0" r="1.6"/><circle cx="108.0" cy="149.0" r="1.6"/><circle cx="112.0" cy="155.0" r="1.6"/><circle cx="120.0" cy="151.0" r="1.6"/><circle cx="104.0" cy="156.0" r="1.4"/>
<circle cx="30.0" cy="226.0" r="12.0"/><circle cx="70.0" cy="213.0" r="12.0"/><circle cx="4.0" cy="246.0" r="6.0"/><circle cx="96.0" cy="198.0" r="7.0"/><circle cx="92.0" cy="226.0" r="6.0"/><path d="M41 222L59 217M20 233L9 242M80 207L90 201M81 218L87 223M44 226L60 221"/>
<path d="M131 208Q137 206 143 209L134 236C146 242 150 256 144 268C138 280 118 284 106 276C94 268 92 252 102 242C108 236 116 236 122 236ZM98 258Q110 252 122 256T146 258"/><circle cx="112.0" cy="266.0" r="2.4"/><circle cx="128.0" cy="268.0" r="2.8"/>
<path d="M148.3 181.5L147.8 183.0L147.9 184.2L148.7 185.1L150.1 185.8L151.4 186.5L152.2 187.4L152.3 188.6L151.8 190.0L151.3 191.5L151.4 192.7L152.2 193.6L153.6 194.3L154.9 195.0L155.7 195.9L155.8 197.1L155.3 198.5L154.8 200.0L154.9 201.2L155.7 202.1L157.1 202.8L158.4 203.5L159.2 204.4L159.3 205.6L158.8 207.0L158.3 208.5L158.4 209.7L159.2 210.6L160.6 211.3L161.9 212.0L162.7 212.9L162.8 214.1L162.3 215.5 Q168.4 219.9 169.7 212.5L170.2 211.0L170.1 209.8L169.3 208.9L167.9 208.2L166.6 207.5L165.8 206.6L165.7 205.4L166.2 204.0L166.7 202.5L166.6 201.3L165.8 200.4L164.4 199.7L163.1 199.0L162.3 198.1L162.2 196.9L162.7 195.5L163.2 194.0L163.1 192.8L162.3 191.9L160.9 191.2L159.6 190.5L158.8 189.6L158.7 188.4L159.2 187.0L159.7 185.5L159.6 184.3L158.8 183.4L157.4 182.7L156.1 182.0L155.3 181.1L155.2 179.9L155.7 178.5Q149.6 174.1 148.3 181.5"/>
<path d="M164.0 178.2L163.1 179.4L162.7 180.4L163.2 181.5L164.3 182.5L165.3 183.5L165.8 184.5L165.4 185.6L164.5 186.7L163.6 187.9L163.2 188.9L163.7 190.0L164.8 191.0L165.8 192.0L166.3 193.0L165.9 194.1L165.0 195.2L164.1 196.4L163.7 197.4L164.2 198.5L165.3 199.5L166.3 200.5L166.8 201.5L166.4 202.6L165.5 203.7L164.6 204.9L164.2 205.9L164.7 207.0L165.8 208.0L166.8 209.0L167.3 210.0L166.9 211.1L166.0 212.2 Q170.4 218.4 174.0 211.8L174.9 210.6L175.3 209.6L174.8 208.5L173.7 207.5L172.7 206.5L172.2 205.5L172.6 204.4L173.5 203.3L174.4 202.1L174.8 201.1L174.3 200.0L173.2 199.0L172.2 198.0L171.7 197.0L172.1 195.9L173.0 194.8L173.9 193.6L174.3 192.6L173.8 191.5L172.7 190.5L171.7 189.5L171.2 188.5L171.6 187.4L172.5 186.3L173.4 185.1L173.8 184.1L173.3 183.0L172.2 182.0L171.2 181.0L170.7 180.0L171.1 178.9L172.0 177.8Q167.6 171.6 164.0 178.2"/>
<path d="M162.1 219.3L160.9 220.1L160.3 221.0L160.5 222.1L161.3 223.3L162.1 224.4L162.3 225.5L161.7 226.4L160.6 227.3L159.4 228.1L158.8 229.0L159.0 230.1L159.8 231.3L160.6 232.4L160.8 233.5L160.2 234.4L159.1 235.3L157.9 236.1L157.3 237.0L157.5 238.1L158.3 239.3L159.1 240.4L159.3 241.5L158.7 242.4L157.6 243.3L156.4 244.1L155.8 245.0L156.0 246.1L156.8 247.3L157.6 248.4L157.8 249.5L157.2 250.4L156.1 251.3 Q158.8 258.3 163.9 252.7L165.1 251.9L165.7 251.0L165.5 249.9L164.7 248.7L163.9 247.6L163.7 246.5L164.3 245.6L165.4 244.7L166.6 243.9L167.2 243.0L167.0 241.9L166.2 240.7L165.4 239.6L165.2 238.5L165.8 237.6L166.9 236.7L168.1 235.9L168.7 235.0L168.5 233.9L167.7 232.7L166.9 231.6L166.7 230.5L167.3 229.6L168.4 228.7L169.6 227.9L170.2 227.0L170.0 225.9L169.2 224.7L168.4 223.6L168.2 222.5L168.8 221.6L169.9 220.7Q167.2 213.7 162.1 219.3"/>
<path d="M170.3 219.6L169.9 221.0L169.9 222.2L170.7 223.0L172.1 223.6L173.4 224.2L174.2 225.0L174.3 226.2L173.8 227.6L173.4 229.0L173.4 230.2L174.2 231.0L175.6 231.6L176.9 232.2L177.7 233.0L177.8 234.2L177.3 235.6L176.9 237.0L176.9 238.2L177.7 239.0L179.1 239.6L180.4 240.2L181.2 241.0L181.3 242.2L180.8 243.6L180.4 245.0L180.4 246.2L181.2 247.0L182.6 247.6L183.9 248.2L184.7 249.0L184.8 250.2L184.3 251.6 Q190.6 255.9 191.7 248.4L192.1 247.0L192.1 245.8L191.3 245.0L189.9 244.4L188.6 243.8L187.8 243.0L187.7 241.8L188.2 240.4L188.6 239.0L188.6 237.8L187.8 237.0L186.4 236.4L185.1 235.8L184.3 235.0L184.2 233.8L184.7 232.4L185.1 231.0L185.1 229.8L184.3 229.0L182.9 228.4L181.6 227.8L180.8 227.0L180.7 225.8L181.2 224.4L181.6 223.0L181.6 221.8L180.8 221.0L179.4 220.4L178.1 219.8L177.3 219.0L177.2 217.8L177.7 216.4Q171.4 212.1 170.3 219.6"/>
<rect x="184.0" y="182.5" width="24.0" height="9.0" rx="4.5" transform="rotate(-60.0 196.0 187.0)"/>
<path d="M235.5 205.5L226.0 211.0L216.5 205.5L216.5 194.5L226.0 189.0L235.5 194.5ZM235.5 205.5L241.6 209.0M226.0 211.0L226.0 218.0M216.5 205.5L210.4 209.0M216.5 194.5L210.4 191.0M226.0 189.0L226.0 182.0M235.5 194.5L241.6 191.0M241 209L254 216L252 230M254 216L266 210M252 230L262 238M252 230L242 238"/><circle cx="241.6" cy="209.0" r="1.7"/><circle cx="226.0" cy="218.0" r="1.7"/><circle cx="210.4" cy="209.0" r="1.7"/><circle cx="210.4" cy="191.0" r="1.7"/><circle cx="226.0" cy="182.0" r="1.7"/><circle cx="241.6" cy="191.0" r="1.7"/><circle cx="266.0" cy="210.0" r="1.7"/><circle cx="262.0" cy="238.0" r="1.7"/><circle cx="242.0" cy="238.0" r="1.7"/>
<ellipse cx="228" cy="270" rx="22" ry="34" transform="rotate(-25 228 270)"/><ellipse cx="228" cy="270" rx="18" ry="30" transform="rotate(-25 228 270)"/><path d="M214 262q8 -4 4 4t6 2t2 8t8 0"/>
<path d="M32.4 263.7L31.9 265.0L32.0 266.2L32.8 266.9L34.1 267.4L35.5 268.0L36.3 268.7L36.3 269.8L35.9 271.2L35.4 272.5L35.5 273.7L36.3 274.4L37.6 274.9L39.0 275.5L39.8 276.2L39.8 277.3L39.4 278.7L38.9 280.0L39.0 281.2L39.8 281.9L41.1 282.4L42.5 283.0L43.3 283.7L43.3 284.8L42.9 286.2L42.4 287.5L42.5 288.7L43.3 289.4L44.6 289.9L46.0 290.5L46.8 291.2L46.8 292.3L46.4 293.7 Q52.7 297.8 53.6 290.3L54.1 289.0L54.0 287.8L53.2 287.1L51.9 286.6L50.5 286.0L49.7 285.3L49.7 284.2L50.1 282.8L50.6 281.5L50.5 280.3L49.7 279.6L48.4 279.1L47.0 278.5L46.2 277.8L46.2 276.7L46.6 275.3L47.1 274.0L47.0 272.8L46.2 272.1L44.9 271.6L43.5 271.0L42.7 270.3L42.7 269.2L43.1 267.8L43.6 266.5L43.5 265.3L42.7 264.6L41.4 264.1L40.0 263.5L39.2 262.8L39.2 261.7L39.6 260.3Q33.3 256.2 32.4 263.7"/>
</g>
<g fill="#d8d8e8" font-family="Liberation Sans, sans-serif" font-size="7.5" font-weight="bold"><text x="208" y="18">NH₂</text><text x="216" y="47">C</text><text x="238" y="54">N</text><text x="192" y="66">HC</text><text x="243" y="79">C</text><text x="266" y="87">O</text><text x="192" y="90">HC</text><text x="228" y="98">N</text></g>
</pattern></defs>
<rect width="1090" height="296" fill="url(#tile)"/>
</svg>
<div class="q" style="top:9.3px">1. Describa brevemente el proceso de la transcripción.</div>
<div class="q" style="top:59.3px">2. Describa brevemente el proceso de la traducción.</div>
<div class="q" style="top:109.3px">3. ¿Dónde tiene lugar la transcripción en eucariotas? ¿Y la traducción?</div>
<div class="q" style="top:159.3px">4. ¿Cuál es la función del ARNt?</div>
<div class="q" style="top:209.3px">5. ¿Qué papel juegan los ribosomas?</div>
<div class="q" style="top:259.3px">6. ¿Qué ventaja puede suponer para el organismo que varios ribosomas traduzcan simultaneamente el mismo gen?</div>
</div>

<div id="fline" class="abs"></div>
<div id="fbox" class="abs">
<div class="abs" style="right:23px;top:8px;font-size:16.8px;line-height:19px;white-space:nowrap;color:#f4f4fa">© Grupo de Innovación sobre la Docencia en Diversidad Biológica</div>
<div class="abs" style="right:23px;top:26px;font-size:15.2px;line-height:17px;white-space:nowrap;color:#a9aedb"><span style="color:#e3c35a">BIOINNOVA</span>&nbsp; :: www.innovabiologia.com</div>
</div>
<div id="pg" class="abs">X9</div>
</body>
</html>
